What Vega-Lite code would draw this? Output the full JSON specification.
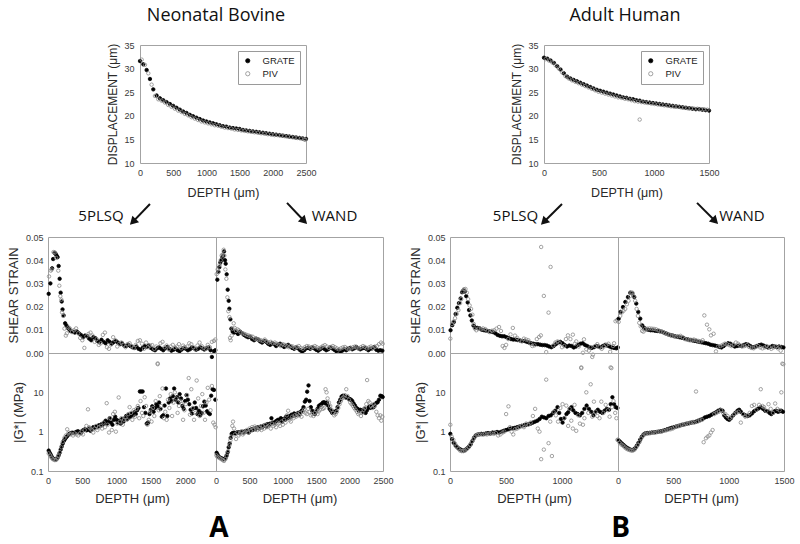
{
"$schema":"https://vega.github.io/schema/vega-lite/v6.json",
"background":"white",
"padding":{"left":7,"top":6,"right":5,"bottom":5},
"config":{
 "view":{"stroke":"#a3a3a3","strokeWidth":1},
 "axis":{"grid":false,"ticks":false,"domain":false,"labelFont":"Liberation Sans","labelFontSize":9,"labelColor":"#3a3a3a","labelPadding":5,"labelFlush":false,"titleFont":"Liberation Sans","titleFontSize":13,"titleFontWeight":"normal","titleColor":"#2a2a2a","titlePadding":5},
 "legend":{"orient":"top-right","offset":6,"padding":5,"strokeColor":"#9a9a9a","fillColor":"white","labelFont":"Liberation Sans","labelFontSize":9.5,"labelColor":"#222","symbolSize":18,"symbolStrokeWidth":0.8,"rowPadding":2,"labelOffset":10},
 "title":{"font":"Open Sans","fontWeight":"normal","color":"#111"},
 "point":{"opacity":1}
},
"datasets":{
"dA":[
{"d":0,"v":31.6,"s":"GRATE"},{"d":50,"v":30.9,"s":"GRATE"},{"d":100,"v":29.7,"s":"GRATE"},{"d":150,"v":27.8,"s":"GRATE"},{"d":200,"v":25.6,"s":"GRATE"},{"d":250,"v":24.3,"s":"GRATE"},{"d":300,"v":23.7,"s":"GRATE"},{"d":350,"v":23.3,"s":"GRATE"},{"d":400,"v":22.9,"s":"GRATE"},{"d":450,"v":22.5,"s":"GRATE"},{"d":500,"v":22.1,"s":"GRATE"},{"d":550,"v":21.7,"s":"GRATE"},{"d":600,"v":21.3,"s":"GRATE"},{"d":650,"v":20.9,"s":"GRATE"},{"d":700,"v":20.6,"s":"GRATE"},{"d":750,"v":20.2,"s":"GRATE"},{"d":800,"v":19.9,"s":"GRATE"},{"d":850,"v":19.6,"s":"GRATE"},{"d":900,"v":19.3,"s":"GRATE"},{"d":950,"v":19.0,"s":"GRATE"},{"d":1000,"v":18.8,"s":"GRATE"},{"d":1050,"v":18.6,"s":"GRATE"},{"d":1100,"v":18.4,"s":"GRATE"},{"d":1150,"v":18.2,"s":"GRATE"},{"d":1200,"v":18.0,"s":"GRATE"},{"d":1250,"v":17.8,"s":"GRATE"},{"d":1300,"v":17.7,"s":"GRATE"},{"d":1350,"v":17.5,"s":"GRATE"},{"d":1400,"v":17.4,"s":"GRATE"},{"d":1450,"v":17.3,"s":"GRATE"},{"d":1500,"v":17.2,"s":"GRATE"},{"d":1550,"v":17.0,"s":"GRATE"},{"d":1600,"v":16.9,"s":"GRATE"},{"d":1650,"v":16.8,"s":"GRATE"},{"d":1700,"v":16.7,"s":"GRATE"},{"d":1750,"v":16.6,"s":"GRATE"},{"d":1800,"v":16.5,"s":"GRATE"},{"d":1850,"v":16.4,"s":"GRATE"},{"d":1900,"v":16.3,"s":"GRATE"},{"d":1950,"v":16.2,"s":"GRATE"},{"d":2000,"v":16.1,"s":"GRATE"},{"d":2050,"v":16.0,"s":"GRATE"},{"d":2100,"v":15.9,"s":"GRATE"},{"d":2150,"v":15.8,"s":"GRATE"},{"d":2200,"v":15.7,"s":"GRATE"},{"d":2250,"v":15.6,"s":"GRATE"},{"d":2300,"v":15.5,"s":"GRATE"},{"d":2350,"v":15.4,"s":"GRATE"},{"d":2400,"v":15.3,"s":"GRATE"},{"d":2450,"v":15.2,"s":"GRATE"},{"d":2500,"v":15.1,"s":"GRATE"},
{"d":25,"v":31.9,"s":"PIV"},{"d":75,"v":30.8,"s":"PIV"},{"d":125,"v":29.0,"s":"PIV"},{"d":175,"v":26.6,"s":"PIV"},{"d":225,"v":24.2,"s":"PIV"},{"d":275,"v":23.5,"s":"PIV"},{"d":325,"v":23.2,"s":"PIV"},{"d":375,"v":22.8,"s":"PIV"},{"d":425,"v":22.3,"s":"PIV"},{"d":475,"v":21.9,"s":"PIV"},{"d":525,"v":21.5,"s":"PIV"},{"d":575,"v":21.1,"s":"PIV"},{"d":625,"v":20.8,"s":"PIV"},{"d":675,"v":20.4,"s":"PIV"},{"d":725,"v":20.1,"s":"PIV"},{"d":775,"v":19.7,"s":"PIV"},{"d":825,"v":19.4,"s":"PIV"},{"d":875,"v":19.1,"s":"PIV"},{"d":925,"v":18.8,"s":"PIV"},{"d":975,"v":18.6,"s":"PIV"},{"d":1025,"v":18.4,"s":"PIV"},{"d":1075,"v":18.2,"s":"PIV"},{"d":1125,"v":18.0,"s":"PIV"},{"d":1175,"v":17.9,"s":"PIV"},{"d":1225,"v":17.7,"s":"PIV"},{"d":1275,"v":17.5,"s":"PIV"},{"d":1325,"v":17.4,"s":"PIV"},{"d":1375,"v":17.3,"s":"PIV"},{"d":1425,"v":17.1,"s":"PIV"},{"d":1475,"v":17.0,"s":"PIV"},{"d":1525,"v":16.9,"s":"PIV"},{"d":1575,"v":16.8,"s":"PIV"},{"d":1625,"v":16.7,"s":"PIV"},{"d":1675,"v":16.6,"s":"PIV"},{"d":1725,"v":16.5,"s":"PIV"},{"d":1775,"v":16.4,"s":"PIV"},{"d":1825,"v":16.3,"s":"PIV"},{"d":1875,"v":16.2,"s":"PIV"},{"d":1925,"v":16.1,"s":"PIV"},{"d":1975,"v":16.0,"s":"PIV"},{"d":2025,"v":15.9,"s":"PIV"},{"d":2075,"v":15.9,"s":"PIV"},{"d":2125,"v":15.8,"s":"PIV"},{"d":2175,"v":15.7,"s":"PIV"},{"d":2225,"v":15.6,"s":"PIV"},{"d":2275,"v":15.5,"s":"PIV"},{"d":2325,"v":15.4,"s":"PIV"},{"d":2375,"v":15.3,"s":"PIV"},{"d":2425,"v":15.2,"s":"PIV"},{"d":2475,"v":15.0,"s":"PIV"},{"d":2490,"v":14.9,"s":"PIV"}
],
"dB":[
{"d":0,"v":32.3,"s":"GRATE"},{"d":30,"v":32.1,"s":"GRATE"},{"d":60,"v":31.7,"s":"GRATE"},{"d":90,"v":31.2,"s":"GRATE"},{"d":120,"v":30.5,"s":"GRATE"},{"d":150,"v":29.8,"s":"GRATE"},{"d":180,"v":29.0,"s":"GRATE"},{"d":210,"v":28.3,"s":"GRATE"},{"d":240,"v":27.9,"s":"GRATE"},{"d":270,"v":27.6,"s":"GRATE"},{"d":300,"v":27.3,"s":"GRATE"},{"d":330,"v":27.0,"s":"GRATE"},{"d":360,"v":26.7,"s":"GRATE"},{"d":390,"v":26.4,"s":"GRATE"},{"d":420,"v":26.1,"s":"GRATE"},{"d":450,"v":25.8,"s":"GRATE"},{"d":480,"v":25.5,"s":"GRATE"},{"d":510,"v":25.3,"s":"GRATE"},{"d":540,"v":25.1,"s":"GRATE"},{"d":570,"v":24.9,"s":"GRATE"},{"d":600,"v":24.7,"s":"GRATE"},{"d":630,"v":24.5,"s":"GRATE"},{"d":660,"v":24.3,"s":"GRATE"},{"d":690,"v":24.1,"s":"GRATE"},{"d":720,"v":23.9,"s":"GRATE"},{"d":750,"v":23.8,"s":"GRATE"},{"d":780,"v":23.6,"s":"GRATE"},{"d":810,"v":23.5,"s":"GRATE"},{"d":840,"v":23.3,"s":"GRATE"},{"d":870,"v":23.2,"s":"GRATE"},{"d":900,"v":23.0,"s":"GRATE"},{"d":930,"v":22.9,"s":"GRATE"},{"d":960,"v":22.8,"s":"GRATE"},{"d":990,"v":22.7,"s":"GRATE"},{"d":1020,"v":22.6,"s":"GRATE"},{"d":1050,"v":22.5,"s":"GRATE"},{"d":1080,"v":22.4,"s":"GRATE"},{"d":1110,"v":22.3,"s":"GRATE"},{"d":1140,"v":22.2,"s":"GRATE"},{"d":1170,"v":22.1,"s":"GRATE"},{"d":1200,"v":22.0,"s":"GRATE"},{"d":1230,"v":21.9,"s":"GRATE"},{"d":1260,"v":21.8,"s":"GRATE"},{"d":1290,"v":21.7,"s":"GRATE"},{"d":1320,"v":21.6,"s":"GRATE"},{"d":1350,"v":21.5,"s":"GRATE"},{"d":1380,"v":21.4,"s":"GRATE"},{"d":1410,"v":21.4,"s":"GRATE"},{"d":1440,"v":21.3,"s":"GRATE"},{"d":1470,"v":21.2,"s":"GRATE"},{"d":1500,"v":21.1,"s":"GRATE"},
{"d":15,"v":32.0,"s":"PIV"},{"d":45,"v":31.7,"s":"PIV"},{"d":75,"v":31.3,"s":"PIV"},{"d":105,"v":30.7,"s":"PIV"},{"d":135,"v":30.0,"s":"PIV"},{"d":165,"v":29.2,"s":"PIV"},{"d":195,"v":28.4,"s":"PIV"},{"d":225,"v":27.9,"s":"PIV"},{"d":255,"v":27.5,"s":"PIV"},{"d":285,"v":27.2,"s":"PIV"},{"d":315,"v":26.9,"s":"PIV"},{"d":345,"v":26.6,"s":"PIV"},{"d":375,"v":26.3,"s":"PIV"},{"d":405,"v":26.0,"s":"PIV"},{"d":435,"v":25.7,"s":"PIV"},{"d":465,"v":25.4,"s":"PIV"},{"d":495,"v":25.1,"s":"PIV"},{"d":525,"v":24.9,"s":"PIV"},{"d":555,"v":24.7,"s":"PIV"},{"d":585,"v":24.5,"s":"PIV"},{"d":615,"v":24.3,"s":"PIV"},{"d":645,"v":24.1,"s":"PIV"},{"d":675,"v":23.9,"s":"PIV"},{"d":705,"v":23.8,"s":"PIV"},{"d":735,"v":23.6,"s":"PIV"},{"d":765,"v":23.5,"s":"PIV"},{"d":795,"v":23.3,"s":"PIV"},{"d":825,"v":23.1,"s":"PIV"},{"d":855,"v":23.0,"s":"PIV"},{"d":870,"v":19.2,"s":"PIV"},{"d":885,"v":22.9,"s":"PIV"},{"d":915,"v":22.8,"s":"PIV"},{"d":945,"v":22.7,"s":"PIV"},{"d":975,"v":22.6,"s":"PIV"},{"d":1005,"v":22.5,"s":"PIV"},{"d":1035,"v":22.4,"s":"PIV"},{"d":1065,"v":22.3,"s":"PIV"},{"d":1095,"v":22.2,"s":"PIV"},{"d":1125,"v":22.1,"s":"PIV"},{"d":1155,"v":22.0,"s":"PIV"},{"d":1185,"v":21.9,"s":"PIV"},{"d":1215,"v":21.9,"s":"PIV"},{"d":1245,"v":21.8,"s":"PIV"},{"d":1275,"v":21.7,"s":"PIV"},{"d":1305,"v":21.6,"s":"PIV"},{"d":1335,"v":21.6,"s":"PIV"},{"d":1365,"v":21.5,"s":"PIV"},{"d":1395,"v":21.5,"s":"PIV"},{"d":1425,"v":21.4,"s":"PIV"},{"d":1455,"v":21.4,"s":"PIV"},{"d":1485,"v":21.3,"s":"PIV"}
],
"sAL":[
{"d":10,"v":0.0255,"s":"GRATE"},{"d":35,"v":0.030,"s":"GRATE"},{"d":60,"v":0.0365,"s":"GRATE"},{"d":75,"v":0.0405,"s":"GRATE"},{"d":95,"v":0.0432,"s":"GRATE"},{"d":110,"v":0.0428,"s":"GRATE"},{"d":125,"v":0.042,"s":"GRATE"},{"d":140,"v":0.0413,"s":"GRATE"},{"d":155,"v":0.0375,"s":"GRATE"},{"d":170,"v":0.032,"s":"GRATE"},{"d":185,"v":0.026,"s":"GRATE"},{"d":200,"v":0.0222,"s":"GRATE"},{"d":212,"v":0.0188,"s":"GRATE"},{"d":228,"v":0.0162,"s":"GRATE"},{"d":250,"v":0.0128,"s":"GRATE"},{"d":270,"v":0.0118,"s":"GRATE"},{"d":290,"v":0.0108,"s":"GRATE"},{"d":310,"v":0.0102,"s":"GRATE"},{"d":330,"v":0.0095,"s":"GRATE"},{"d":360,"v":0.0092,"s":"GRATE"},{"d":390,"v":0.0088,"s":"GRATE"},{"d":420,"v":0.0093,"s":"GRATE"},{"d":450,"v":0.0085,"s":"GRATE"},{"d":480,"v":0.0078,"s":"GRATE"},{"d":510,"v":0.0068,"s":"GRATE"},{"d":540,"v":0.0075,"s":"GRATE"},{"d":570,"v":0.0073,"s":"GRATE"},{"d":600,"v":0.0062,"s":"GRATE"},{"d":630,"v":0.0055,"s":"GRATE"},{"d":660,"v":0.0068,"s":"GRATE"},{"d":690,"v":0.0064,"s":"GRATE"},{"d":720,"v":0.0052,"s":"GRATE"},{"d":750,"v":0.0046,"s":"GRATE"},{"d":780,"v":0.0057,"s":"GRATE"},{"d":810,"v":0.0048,"s":"GRATE"},{"d":840,"v":0.0042,"s":"GRATE"},{"d":870,"v":0.0055,"s":"GRATE"},{"d":900,"v":0.0048,"s":"GRATE"},{"d":930,"v":0.0040,"s":"GRATE"},{"d":960,"v":0.0047,"s":"GRATE"},{"d":990,"v":0.0052,"s":"GRATE"},{"d":1020,"v":0.0045,"s":"GRATE"},{"d":1050,"v":0.0038,"s":"GRATE"},{"d":1080,"v":0.0042,"s":"GRATE"},{"d":1110,"v":0.0032,"s":"GRATE"},{"d":1140,"v":0.0030,"s":"GRATE"},{"d":1170,"v":0.0036,"s":"GRATE"},{"d":1200,"v":0.0030,"s":"GRATE"},{"d":1230,"v":0.0025,"s":"GRATE"},{"d":1260,"v":0.0022,"s":"GRATE"},{"d":1290,"v":0.0028,"s":"GRATE"},{"d":1320,"v":0.0018,"s":"GRATE"},{"d":1350,"v":0.0014,"s":"GRATE"},{"d":1380,"v":0.0022,"s":"GRATE"},{"d":1410,"v":0.0030,"s":"GRATE"},{"d":1440,"v":0.0026,"s":"GRATE"},{"d":1470,"v":0.0032,"s":"GRATE"},{"d":1500,"v":0.0022,"s":"GRATE"},{"d":1530,"v":0.0016,"s":"GRATE"},{"d":1560,"v":0.0012,"s":"GRATE"},{"d":1590,"v":0.0020,"s":"GRATE"},{"d":1620,"v":0.0024,"s":"GRATE"},{"d":1650,"v":0.0018,"s":"GRATE"},{"d":1680,"v":0.0012,"s":"GRATE"},{"d":1710,"v":0.0020,"s":"GRATE"},{"d":1740,"v":0.0026,"s":"GRATE"},{"d":1770,"v":0.0018,"s":"GRATE"},{"d":1800,"v":0.0010,"s":"GRATE"},{"d":1830,"v":0.0014,"s":"GRATE"},{"d":1860,"v":0.0020,"s":"GRATE"},{"d":1890,"v":0.0012,"s":"GRATE"},{"d":1920,"v":0.0008,"s":"GRATE"},{"d":1950,"v":0.0015,"s":"GRATE"},{"d":1980,"v":0.0022,"s":"GRATE"},{"d":2010,"v":0.0018,"s":"GRATE"},{"d":2040,"v":0.0012,"s":"GRATE"},{"d":2070,"v":0.0016,"s":"GRATE"},{"d":2100,"v":0.0024,"s":"GRATE"},{"d":2130,"v":0.0020,"s":"GRATE"},{"d":2160,"v":0.0014,"s":"GRATE"},{"d":2190,"v":0.0018,"s":"GRATE"},{"d":2220,"v":0.0025,"s":"GRATE"},{"d":2250,"v":0.0020,"s":"GRATE"},{"d":2280,"v":0.0015,"s":"GRATE"},{"d":2310,"v":0.0020,"s":"GRATE"},{"d":2340,"v":0.0024,"s":"GRATE"},{"d":2370,"v":0.0012,"s":"GRATE"},{"d":2390,"v":-0.0017,"s":"GRATE"},{"d":2420,"v":0.0008,"s":"GRATE"},{"d":2440,"v":0.0012,"s":"GRATE"},
{"d":15,"v":0.033,"s":"PIV"},{"d":40,"v":0.0355,"s":"PIV"},{"d":55,"v":0.036,"s":"PIV"},{"d":80,"v":0.0435,"s":"PIV"},{"d":100,"v":0.0433,"s":"PIV"},{"d":120,"v":0.041,"s":"PIV"},{"d":150,"v":0.0355,"s":"PIV"},{"d":165,"v":0.029,"s":"PIV"},{"d":180,"v":0.0245,"s":"PIV"},{"d":195,"v":0.023,"s":"PIV"},{"d":205,"v":0.0175,"s":"PIV"},{"d":220,"v":0.016,"s":"PIV"},{"d":240,"v":0.0105,"s":"PIV"},{"d":260,"v":0.0075,"s":"PIV"},{"d":275,"v":0.0085,"s":"PIV"},{"d":300,"v":0.011,"s":"PIV"},{"d":320,"v":0.0105,"s":"PIV"},{"d":350,"v":0.009,"s":"PIV"},{"d":380,"v":0.0098,"s":"PIV"},{"d":410,"v":0.0106,"s":"PIV"},{"d":440,"v":0.0085,"s":"PIV"},{"d":470,"v":0.0065,"s":"PIV"},{"d":500,"v":0.0055,"s":"PIV"},{"d":530,"v":0.0022,"s":"PIV"},{"d":560,"v":0.0072,"s":"PIV"},{"d":590,"v":0.0082,"s":"PIV"},{"d":620,"v":0.0088,"s":"PIV"},{"d":650,"v":0.0075,"s":"PIV"},{"d":680,"v":0.0048,"s":"PIV"},{"d":710,"v":0.006,"s":"PIV"},{"d":740,"v":0.0035,"s":"PIV"},{"d":770,"v":0.0042,"s":"PIV"},{"d":800,"v":0.0078,"s":"PIV"},{"d":830,"v":0.0088,"s":"PIV"},{"d":860,"v":0.0025,"s":"PIV"},{"d":890,"v":0.0018,"s":"PIV"},{"d":920,"v":0.0036,"s":"PIV"},{"d":950,"v":0.0068,"s":"PIV"},{"d":980,"v":0.0055,"s":"PIV"},{"d":1010,"v":0.0028,"s":"PIV"},{"d":1040,"v":0.004,"s":"PIV"},{"d":1070,"v":0.0045,"s":"PIV"},{"d":1100,"v":0.0035,"s":"PIV"},{"d":1130,"v":0.0025,"s":"PIV"},{"d":1160,"v":0.0038,"s":"PIV"},{"d":1190,"v":0.0042,"s":"PIV"},{"d":1220,"v":0.003,"s":"PIV"},{"d":1250,"v":0.0022,"s":"PIV"},{"d":1280,"v":0.0035,"s":"PIV"},{"d":1310,"v":0.0052,"s":"PIV"},{"d":1340,"v":0.0055,"s":"PIV"},{"d":1370,"v":0.004,"s":"PIV"},{"d":1400,"v":0.0018,"s":"PIV"},{"d":1430,"v":0.0045,"s":"PIV"},{"d":1460,"v":0.0025,"s":"PIV"},{"d":1490,"v":0.0032,"s":"PIV"},{"d":1520,"v":0.0034,"s":"PIV"},{"d":1550,"v":0.0018,"s":"PIV"},{"d":1580,"v":0.0028,"s":"PIV"},{"d":1600,"v":-0.0045,"s":"PIV"},{"d":1640,"v":0.0042,"s":"PIV"},{"d":1670,"v":0.0048,"s":"PIV"},{"d":1700,"v":0.0025,"s":"PIV"},{"d":1730,"v":0.0032,"s":"PIV"},{"d":1760,"v":0.0015,"s":"PIV"},{"d":1790,"v":0.0028,"s":"PIV"},{"d":1820,"v":0.0035,"s":"PIV"},{"d":1850,"v":0.0022,"s":"PIV"},{"d":1880,"v":0.0028,"s":"PIV"},{"d":1910,"v":0.0038,"s":"PIV"},{"d":1940,"v":0.0020,"s":"PIV"},{"d":1970,"v":0.0032,"s":"PIV"},{"d":2000,"v":0.0025,"s":"PIV"},{"d":2030,"v":0.0028,"s":"PIV"},{"d":2060,"v":0.0042,"s":"PIV"},{"d":2090,"v":0.0038,"s":"PIV"},{"d":2120,"v":0.0025,"s":"PIV"},{"d":2150,"v":0.0015,"s":"PIV"},{"d":2180,"v":0.0032,"s":"PIV"},{"d":2210,"v":0.0045,"s":"PIV"},{"d":2240,"v":0.0030,"s":"PIV"},{"d":2270,"v":0.0022,"s":"PIV"},{"d":2300,"v":0.0018,"s":"PIV"},{"d":2330,"v":0.0035,"s":"PIV"},{"d":2360,"v":0.0025,"s":"PIV"},{"d":2390,"v":0.0048,"s":"PIV"},{"d":2420,"v":0.0052,"s":"PIV"},{"d":2440,"v":0.0058,"s":"PIV"}
],
"sAR":[
{"d":20,"v":0.0316,"s":"GRATE"},{"d":35,"v":0.035,"s":"GRATE"},{"d":50,"v":0.037,"s":"GRATE"},{"d":65,"v":0.039,"s":"GRATE"},{"d":80,"v":0.040,"s":"GRATE"},{"d":95,"v":0.0414,"s":"GRATE"},{"d":110,"v":0.042,"s":"GRATE"},{"d":120,"v":0.0438,"s":"GRATE"},{"d":135,"v":0.040,"s":"GRATE"},{"d":145,"v":0.0385,"s":"GRATE"},{"d":160,"v":0.0339,"s":"GRATE"},{"d":175,"v":0.0273,"s":"GRATE"},{"d":190,"v":0.0225,"s":"GRATE"},{"d":200,"v":0.0191,"s":"GRATE"},{"d":215,"v":0.0145,"s":"GRATE"},{"d":230,"v":0.0105,"s":"GRATE"},{"d":250,"v":0.0092,"s":"GRATE"},{"d":270,"v":0.0088,"s":"GRATE"},{"d":290,"v":0.0095,"s":"GRATE"},{"d":310,"v":0.0088,"s":"GRATE"},{"d":330,"v":0.0082,"s":"GRATE"},{"d":360,"v":0.0092,"s":"GRATE"},{"d":390,"v":0.0085,"s":"GRATE"},{"d":420,"v":0.0078,"s":"GRATE"},{"d":450,"v":0.0072,"s":"GRATE"},{"d":480,"v":0.0068,"s":"GRATE"},{"d":510,"v":0.0070,"s":"GRATE"},{"d":540,"v":0.0060,"s":"GRATE"},{"d":570,"v":0.0055,"s":"GRATE"},{"d":600,"v":0.0062,"s":"GRATE"},{"d":630,"v":0.0058,"s":"GRATE"},{"d":660,"v":0.0050,"s":"GRATE"},{"d":690,"v":0.0045,"s":"GRATE"},{"d":720,"v":0.0052,"s":"GRATE"},{"d":750,"v":0.0048,"s":"GRATE"},{"d":780,"v":0.0040,"s":"GRATE"},{"d":810,"v":0.0035,"s":"GRATE"},{"d":840,"v":0.0042,"s":"GRATE"},{"d":870,"v":0.0038,"s":"GRATE"},{"d":900,"v":0.0030,"s":"GRATE"},{"d":930,"v":0.0036,"s":"GRATE"},{"d":960,"v":0.0040,"s":"GRATE"},{"d":990,"v":0.0032,"s":"GRATE"},{"d":1020,"v":0.0026,"s":"GRATE"},{"d":1050,"v":0.0030,"s":"GRATE"},{"d":1080,"v":0.0035,"s":"GRATE"},{"d":1110,"v":0.0028,"s":"GRATE"},{"d":1140,"v":0.0022,"s":"GRATE"},{"d":1170,"v":0.0018,"s":"GRATE"},{"d":1200,"v":0.0024,"s":"GRATE"},{"d":1230,"v":0.0020,"s":"GRATE"},{"d":1260,"v":0.0012,"s":"GRATE"},{"d":1290,"v":0.0006,"s":"GRATE"},{"d":1320,"v":0.0012,"s":"GRATE"},{"d":1350,"v":0.0020,"s":"GRATE"},{"d":1380,"v":0.0022,"s":"GRATE"},{"d":1410,"v":0.0018,"s":"GRATE"},{"d":1440,"v":0.0024,"s":"GRATE"},{"d":1470,"v":0.0020,"s":"GRATE"},{"d":1500,"v":0.0014,"s":"GRATE"},{"d":1530,"v":0.0010,"s":"GRATE"},{"d":1560,"v":0.0016,"s":"GRATE"},{"d":1590,"v":0.0022,"s":"GRATE"},{"d":1620,"v":0.0018,"s":"GRATE"},{"d":1650,"v":0.0012,"s":"GRATE"},{"d":1680,"v":0.0016,"s":"GRATE"},{"d":1710,"v":0.0024,"s":"GRATE"},{"d":1740,"v":0.0020,"s":"GRATE"},{"d":1770,"v":0.0014,"s":"GRATE"},{"d":1800,"v":0.0008,"s":"GRATE"},{"d":1830,"v":0.0012,"s":"GRATE"},{"d":1860,"v":0.0006,"s":"GRATE"},{"d":1890,"v":0.0010,"s":"GRATE"},{"d":1920,"v":0.0016,"s":"GRATE"},{"d":1950,"v":0.0012,"s":"GRATE"},{"d":1980,"v":0.0018,"s":"GRATE"},{"d":2010,"v":0.0022,"s":"GRATE"},{"d":2040,"v":0.0016,"s":"GRATE"},{"d":2070,"v":0.0020,"s":"GRATE"},{"d":2100,"v":0.0026,"s":"GRATE"},{"d":2130,"v":0.0020,"s":"GRATE"},{"d":2160,"v":0.0016,"s":"GRATE"},{"d":2190,"v":0.0020,"s":"GRATE"},{"d":2220,"v":0.0022,"s":"GRATE"},{"d":2250,"v":0.0018,"s":"GRATE"},{"d":2280,"v":0.0012,"s":"GRATE"},{"d":2310,"v":0.0018,"s":"GRATE"},{"d":2340,"v":0.0020,"s":"GRATE"},{"d":2370,"v":0.0026,"s":"GRATE"},{"d":2400,"v":0.0014,"s":"GRATE"},{"d":2430,"v":0.0010,"s":"GRATE"},{"d":2460,"v":0.0012,"s":"GRATE"},{"d":2490,"v":0.0010,"s":"GRATE"},
{"d":10,"v":0.034,"s":"PIV"},{"d":25,"v":0.036,"s":"PIV"},{"d":40,"v":0.035,"s":"PIV"},{"d":55,"v":0.038,"s":"PIV"},{"d":70,"v":0.040,"s":"PIV"},{"d":85,"v":0.042,"s":"PIV"},{"d":100,"v":0.0425,"s":"PIV"},{"d":115,"v":0.0445,"s":"PIV"},{"d":125,"v":0.042,"s":"PIV"},{"d":140,"v":0.036,"s":"PIV"},{"d":155,"v":0.032,"s":"PIV"},{"d":170,"v":0.024,"s":"PIV"},{"d":185,"v":0.018,"s":"PIV"},{"d":200,"v":0.0155,"s":"PIV"},{"d":210,"v":0.0065,"s":"PIV"},{"d":220,"v":0.0055,"s":"PIV"},{"d":235,"v":0.0075,"s":"PIV"},{"d":250,"v":0.0105,"s":"PIV"},{"d":265,"v":0.0128,"s":"PIV"},{"d":280,"v":0.0108,"s":"PIV"},{"d":300,"v":0.0095,"s":"PIV"},{"d":320,"v":0.0102,"s":"PIV"},{"d":340,"v":0.0098,"s":"PIV"},{"d":370,"v":0.0088,"s":"PIV"},{"d":400,"v":0.0085,"s":"PIV"},{"d":430,"v":0.0082,"s":"PIV"},{"d":460,"v":0.0078,"s":"PIV"},{"d":490,"v":0.0075,"s":"PIV"},{"d":520,"v":0.0072,"s":"PIV"},{"d":550,"v":0.0070,"s":"PIV"},{"d":580,"v":0.0062,"s":"PIV"},{"d":610,"v":0.0060,"s":"PIV"},{"d":640,"v":0.0058,"s":"PIV"},{"d":670,"v":0.0055,"s":"PIV"},{"d":700,"v":0.0052,"s":"PIV"},{"d":730,"v":0.0058,"s":"PIV"},{"d":760,"v":0.0050,"s":"PIV"},{"d":790,"v":0.0045,"s":"PIV"},{"d":820,"v":0.0048,"s":"PIV"},{"d":850,"v":0.0042,"s":"PIV"},{"d":880,"v":0.0045,"s":"PIV"},{"d":910,"v":0.0040,"s":"PIV"},{"d":940,"v":0.0035,"s":"PIV"},{"d":970,"v":0.0030,"s":"PIV"},{"d":1000,"v":0.0038,"s":"PIV"},{"d":1030,"v":0.0035,"s":"PIV"},{"d":1060,"v":0.0030,"s":"PIV"},{"d":1090,"v":0.0025,"s":"PIV"},{"d":1120,"v":0.0030,"s":"PIV"},{"d":1150,"v":0.0028,"s":"PIV"},{"d":1180,"v":0.0022,"s":"PIV"},{"d":1210,"v":0.0026,"s":"PIV"},{"d":1240,"v":0.0030,"s":"PIV"},{"d":1270,"v":0.0022,"s":"PIV"},{"d":1300,"v":0.0018,"s":"PIV"},{"d":1330,"v":0.0025,"s":"PIV"},{"d":1360,"v":0.0030,"s":"PIV"},{"d":1390,"v":0.0028,"s":"PIV"},{"d":1420,"v":0.0022,"s":"PIV"},{"d":1450,"v":0.0026,"s":"PIV"},{"d":1480,"v":0.0030,"s":"PIV"},{"d":1510,"v":0.0025,"s":"PIV"},{"d":1540,"v":0.0020,"s":"PIV"},{"d":1570,"v":0.0024,"s":"PIV"},{"d":1600,"v":0.0030,"s":"PIV"},{"d":1630,"v":0.0034,"s":"PIV"},{"d":1660,"v":0.0028,"s":"PIV"},{"d":1690,"v":0.0022,"s":"PIV"},{"d":1720,"v":0.0026,"s":"PIV"},{"d":1750,"v":0.0030,"s":"PIV"},{"d":1780,"v":0.0025,"s":"PIV"},{"d":1810,"v":0.0020,"s":"PIV"},{"d":1840,"v":0.0016,"s":"PIV"},{"d":1870,"v":0.0020,"s":"PIV"},{"d":1900,"v":0.0024,"s":"PIV"},{"d":1930,"v":0.0026,"s":"PIV"},{"d":1960,"v":0.0020,"s":"PIV"},{"d":1990,"v":0.0016,"s":"PIV"},{"d":2020,"v":0.0020,"s":"PIV"},{"d":2050,"v":0.0025,"s":"PIV"},{"d":2080,"v":0.0028,"s":"PIV"},{"d":2110,"v":0.0024,"s":"PIV"},{"d":2140,"v":0.0020,"s":"PIV"},{"d":2170,"v":0.0025,"s":"PIV"},{"d":2200,"v":0.0030,"s":"PIV"},{"d":2230,"v":0.0026,"s":"PIV"},{"d":2260,"v":0.0020,"s":"PIV"},{"d":2290,"v":0.0024,"s":"PIV"},{"d":2320,"v":0.0028,"s":"PIV"},{"d":2350,"v":0.0022,"s":"PIV"},{"d":2380,"v":0.0026,"s":"PIV"},{"d":2410,"v":0.0030,"s":"PIV"},{"d":2440,"v":0.0038,"s":"PIV"},{"d":2470,"v":0.0045,"s":"PIV"},{"d":2495,"v":0.0040,"s":"PIV"}
],
"sBL":[
{"d":5,"v":0.0098,"s":"GRATE"},{"d":20,"v":0.012,"s":"GRATE"},{"d":35,"v":0.0134,"s":"GRATE"},{"d":50,"v":0.0168,"s":"GRATE"},{"d":65,"v":0.0195,"s":"GRATE"},{"d":80,"v":0.0215,"s":"GRATE"},{"d":95,"v":0.0235,"s":"GRATE"},{"d":108,"v":0.0262,"s":"GRATE"},{"d":120,"v":0.027,"s":"GRATE"},{"d":132,"v":0.0265,"s":"GRATE"},{"d":145,"v":0.0245,"s":"GRATE"},{"d":158,"v":0.0218,"s":"GRATE"},{"d":170,"v":0.0185,"s":"GRATE"},{"d":182,"v":0.0162,"s":"GRATE"},{"d":195,"v":0.0140,"s":"GRATE"},{"d":210,"v":0.0118,"s":"GRATE"},{"d":225,"v":0.0110,"s":"GRATE"},{"d":245,"v":0.0108,"s":"GRATE"},{"d":265,"v":0.0106,"s":"GRATE"},{"d":285,"v":0.0100,"s":"GRATE"},{"d":305,"v":0.0098,"s":"GRATE"},{"d":325,"v":0.0096,"s":"GRATE"},{"d":345,"v":0.0094,"s":"GRATE"},{"d":365,"v":0.0092,"s":"GRATE"},{"d":385,"v":0.0090,"s":"GRATE"},{"d":405,"v":0.0085,"s":"GRATE"},{"d":425,"v":0.0078,"s":"GRATE"},{"d":445,"v":0.0074,"s":"GRATE"},{"d":465,"v":0.0072,"s":"GRATE"},{"d":485,"v":0.0072,"s":"GRATE"},{"d":505,"v":0.0068,"s":"GRATE"},{"d":525,"v":0.0064,"s":"GRATE"},{"d":545,"v":0.0060,"s":"GRATE"},{"d":565,"v":0.0058,"s":"GRATE"},{"d":585,"v":0.0058,"s":"GRATE"},{"d":605,"v":0.0056,"s":"GRATE"},{"d":625,"v":0.0054,"s":"GRATE"},{"d":645,"v":0.0052,"s":"GRATE"},{"d":665,"v":0.0052,"s":"GRATE"},{"d":685,"v":0.0048,"s":"GRATE"},{"d":705,"v":0.0045,"s":"GRATE"},{"d":725,"v":0.0042,"s":"GRATE"},{"d":745,"v":0.0040,"s":"GRATE"},{"d":765,"v":0.0038,"s":"GRATE"},{"d":785,"v":0.0038,"s":"GRATE"},{"d":805,"v":0.0036,"s":"GRATE"},{"d":825,"v":0.0034,"s":"GRATE"},{"d":845,"v":0.0034,"s":"GRATE"},{"d":865,"v":0.0032,"s":"GRATE"},{"d":885,"v":0.0028,"s":"GRATE"},{"d":905,"v":0.0025,"s":"GRATE"},{"d":925,"v":0.0030,"s":"GRATE"},{"d":945,"v":0.0038,"s":"GRATE"},{"d":965,"v":0.0045,"s":"GRATE"},{"d":985,"v":0.0048,"s":"GRATE"},{"d":1005,"v":0.0042,"s":"GRATE"},{"d":1025,"v":0.0034,"s":"GRATE"},{"d":1045,"v":0.0028,"s":"GRATE"},{"d":1065,"v":0.0032,"s":"GRATE"},{"d":1085,"v":0.0030,"s":"GRATE"},{"d":1105,"v":0.0024,"s":"GRATE"},{"d":1125,"v":0.0028,"s":"GRATE"},{"d":1145,"v":0.0035,"s":"GRATE"},{"d":1165,"v":0.0040,"s":"GRATE"},{"d":1185,"v":0.0042,"s":"GRATE"},{"d":1205,"v":0.0035,"s":"GRATE"},{"d":1225,"v":0.0030,"s":"GRATE"},{"d":1245,"v":0.0025,"s":"GRATE"},{"d":1265,"v":0.0022,"s":"GRATE"},{"d":1285,"v":0.0025,"s":"GRATE"},{"d":1305,"v":0.0030,"s":"GRATE"},{"d":1325,"v":0.0028,"s":"GRATE"},{"d":1345,"v":0.0025,"s":"GRATE"},{"d":1365,"v":0.0030,"s":"GRATE"},{"d":1385,"v":0.0035,"s":"GRATE"},{"d":1405,"v":0.0032,"s":"GRATE"},{"d":1425,"v":0.0028,"s":"GRATE"},{"d":1445,"v":0.0024,"s":"GRATE"},{"d":1465,"v":0.0022,"s":"GRATE"},{"d":1485,"v":0.0020,"s":"GRATE"},{"d":1498,"v":0.0024,"s":"GRATE"},
{"d":3,"v":0.0062,"s":"PIV"},{"d":18,"v":0.0125,"s":"PIV"},{"d":30,"v":0.0135,"s":"PIV"},{"d":45,"v":0.0150,"s":"PIV"},{"d":60,"v":0.0168,"s":"PIV"},{"d":75,"v":0.0185,"s":"PIV"},{"d":90,"v":0.0215,"s":"PIV"},{"d":100,"v":0.0232,"s":"PIV"},{"d":112,"v":0.0265,"s":"PIV"},{"d":125,"v":0.0275,"s":"PIV"},{"d":138,"v":0.0276,"s":"PIV"},{"d":150,"v":0.026,"s":"PIV"},{"d":162,"v":0.0232,"s":"PIV"},{"d":175,"v":0.0205,"s":"PIV"},{"d":188,"v":0.019,"s":"PIV"},{"d":200,"v":0.0165,"s":"PIV"},{"d":212,"v":0.0125,"s":"PIV"},{"d":222,"v":0.0105,"s":"PIV"},{"d":235,"v":0.0098,"s":"PIV"},{"d":255,"v":0.0104,"s":"PIV"},{"d":275,"v":0.0102,"s":"PIV"},{"d":295,"v":0.0106,"s":"PIV"},{"d":315,"v":0.0103,"s":"PIV"},{"d":335,"v":0.0095,"s":"PIV"},{"d":355,"v":0.0090,"s":"PIV"},{"d":375,"v":0.0096,"s":"PIV"},{"d":395,"v":0.0098,"s":"PIV"},{"d":415,"v":0.0105,"s":"PIV"},{"d":438,"v":0.0112,"s":"PIV"},{"d":455,"v":0.0095,"s":"PIV"},{"d":470,"v":0.0030,"s":"PIV"},{"d":486,"v":0.0022,"s":"PIV"},{"d":501,"v":0.0035,"s":"PIV"},{"d":520,"v":0.0060,"s":"PIV"},{"d":540,"v":0.0080,"s":"PIV"},{"d":561,"v":0.0108,"s":"PIV"},{"d":580,"v":0.0075,"s":"PIV"},{"d":600,"v":0.0065,"s":"PIV"},{"d":620,"v":0.0055,"s":"PIV"},{"d":640,"v":0.0050,"s":"PIV"},{"d":660,"v":0.0062,"s":"PIV"},{"d":680,"v":0.0058,"s":"PIV"},{"d":700,"v":0.0055,"s":"PIV"},{"d":720,"v":0.0040,"s":"PIV"},{"d":735,"v":0.0030,"s":"PIV"},{"d":754,"v":0.0033,"s":"PIV"},{"d":775,"v":0.0060,"s":"PIV"},{"d":796,"v":0.0069,"s":"PIV"},{"d":811,"v":0.0076,"s":"PIV"},{"d":814,"v":0.0457,"s":"PIV"},{"d":838,"v":0.0246,"s":"PIV"},{"d":859,"v":0.0004,"s":"PIV"},{"d":880,"v":0.0174,"s":"PIV"},{"d":898,"v":0.0371,"s":"PIV"},{"d":920,"v":0.0032,"s":"PIV"},{"d":940,"v":0.0045,"s":"PIV"},{"d":960,"v":0.0050,"s":"PIV"},{"d":980,"v":0.0042,"s":"PIV"},{"d":1000,"v":0.0025,"s":"PIV"},{"d":1020,"v":0.0030,"s":"PIV"},{"d":1035,"v":0.0060,"s":"PIV"},{"d":1053,"v":0.0076,"s":"PIV"},{"d":1075,"v":0.0060,"s":"PIV"},{"d":1097,"v":0.0079,"s":"PIV"},{"d":1115,"v":0.0040,"s":"PIV"},{"d":1127,"v":0.0050,"s":"PIV"},{"d":1150,"v":0.0028,"s":"PIV"},{"d":1172,"v":-0.0065,"s":"PIV"},{"d":1187,"v":0.0001,"s":"PIV"},{"d":1196,"v":0.0059,"s":"PIV"},{"d":1217,"v":0.0016,"s":"PIV"},{"d":1240,"v":0.0010,"s":"PIV"},{"d":1255,"v":0.0025,"s":"PIV"},{"d":1270,"v":-0.0017,"s":"PIV"},{"d":1276,"v":-0.0007,"s":"PIV"},{"d":1295,"v":0.0030,"s":"PIV"},{"d":1315,"v":0.0038,"s":"PIV"},{"d":1335,"v":0.0025,"s":"PIV"},{"d":1355,"v":0.0018,"s":"PIV"},{"d":1375,"v":0.0028,"s":"PIV"},{"d":1395,"v":0.0035,"s":"PIV"},{"d":1415,"v":0.0040,"s":"PIV"},{"d":1430,"v":0.0005,"s":"PIV"},{"d":1441,"v":-0.0065,"s":"PIV"},{"d":1455,"v":0.0030,"s":"PIV"},{"d":1465,"v":0.0042,"s":"PIV"},{"d":1478,"v":0.0137,"s":"PIV"},{"d":1492,"v":0.0142,"s":"PIV"}
],
"sBR":[
{"d":6,"v":0.0148,"s":"GRATE"},{"d":24,"v":0.0177,"s":"GRATE"},{"d":45,"v":0.0198,"s":"GRATE"},{"d":66,"v":0.022,"s":"GRATE"},{"d":90,"v":0.0241,"s":"GRATE"},{"d":111,"v":0.026,"s":"GRATE"},{"d":129,"v":0.0257,"s":"GRATE"},{"d":147,"v":0.0241,"s":"GRATE"},{"d":165,"v":0.0213,"s":"GRATE"},{"d":183,"v":0.0177,"s":"GRATE"},{"d":201,"v":0.0148,"s":"GRATE"},{"d":219,"v":0.0119,"s":"GRATE"},{"d":237,"v":0.0108,"s":"GRATE"},{"d":255,"v":0.0102,"s":"GRATE"},{"d":275,"v":0.0100,"s":"GRATE"},{"d":295,"v":0.0098,"s":"GRATE"},{"d":315,"v":0.0098,"s":"GRATE"},{"d":335,"v":0.0096,"s":"GRATE"},{"d":355,"v":0.0095,"s":"GRATE"},{"d":375,"v":0.0094,"s":"GRATE"},{"d":395,"v":0.0092,"s":"GRATE"},{"d":415,"v":0.0088,"s":"GRATE"},{"d":435,"v":0.0084,"s":"GRATE"},{"d":455,"v":0.0080,"s":"GRATE"},{"d":475,"v":0.0077,"s":"GRATE"},{"d":495,"v":0.0075,"s":"GRATE"},{"d":515,"v":0.0072,"s":"GRATE"},{"d":535,"v":0.0070,"s":"GRATE"},{"d":555,"v":0.0068,"s":"GRATE"},{"d":575,"v":0.0066,"s":"GRATE"},{"d":595,"v":0.0064,"s":"GRATE"},{"d":615,"v":0.0060,"s":"GRATE"},{"d":635,"v":0.0058,"s":"GRATE"},{"d":655,"v":0.0056,"s":"GRATE"},{"d":675,"v":0.0054,"s":"GRATE"},{"d":695,"v":0.0052,"s":"GRATE"},{"d":715,"v":0.0050,"s":"GRATE"},{"d":735,"v":0.0048,"s":"GRATE"},{"d":755,"v":0.0046,"s":"GRATE"},{"d":775,"v":0.0044,"s":"GRATE"},{"d":795,"v":0.0042,"s":"GRATE"},{"d":815,"v":0.0040,"s":"GRATE"},{"d":835,"v":0.0036,"s":"GRATE"},{"d":855,"v":0.0034,"s":"GRATE"},{"d":875,"v":0.0032,"s":"GRATE"},{"d":895,"v":0.0030,"s":"GRATE"},{"d":915,"v":0.0026,"s":"GRATE"},{"d":935,"v":0.0024,"s":"GRATE"},{"d":955,"v":0.0030,"s":"GRATE"},{"d":975,"v":0.0038,"s":"GRATE"},{"d":995,"v":0.0042,"s":"GRATE"},{"d":1015,"v":0.0040,"s":"GRATE"},{"d":1035,"v":0.0034,"s":"GRATE"},{"d":1055,"v":0.0028,"s":"GRATE"},{"d":1075,"v":0.0030,"s":"GRATE"},{"d":1095,"v":0.0032,"s":"GRATE"},{"d":1115,"v":0.0030,"s":"GRATE"},{"d":1135,"v":0.0034,"s":"GRATE"},{"d":1155,"v":0.0038,"s":"GRATE"},{"d":1175,"v":0.0036,"s":"GRATE"},{"d":1195,"v":0.0030,"s":"GRATE"},{"d":1215,"v":0.0024,"s":"GRATE"},{"d":1235,"v":0.0026,"s":"GRATE"},{"d":1255,"v":0.0030,"s":"GRATE"},{"d":1275,"v":0.0034,"s":"GRATE"},{"d":1295,"v":0.0036,"s":"GRATE"},{"d":1315,"v":0.0032,"s":"GRATE"},{"d":1335,"v":0.0028,"s":"GRATE"},{"d":1355,"v":0.0024,"s":"GRATE"},{"d":1375,"v":0.0026,"s":"GRATE"},{"d":1395,"v":0.0030,"s":"GRATE"},{"d":1415,"v":0.0028,"s":"GRATE"},{"d":1435,"v":0.0026,"s":"GRATE"},{"d":1455,"v":0.0028,"s":"GRATE"},{"d":1475,"v":0.0026,"s":"GRATE"},{"d":1495,"v":0.0024,"s":"GRATE"},
{"d":6,"v":0.0134,"s":"PIV"},{"d":20,"v":0.016,"s":"PIV"},{"d":35,"v":0.0175,"s":"PIV"},{"d":50,"v":0.0182,"s":"PIV"},{"d":65,"v":0.019,"s":"PIV"},{"d":80,"v":0.021,"s":"PIV"},{"d":95,"v":0.0225,"s":"PIV"},{"d":108,"v":0.0245,"s":"PIV"},{"d":118,"v":0.026,"s":"PIV"},{"d":130,"v":0.026,"s":"PIV"},{"d":142,"v":0.0245,"s":"PIV"},{"d":155,"v":0.0225,"s":"PIV"},{"d":168,"v":0.019,"s":"PIV"},{"d":180,"v":0.016,"s":"PIV"},{"d":192,"v":0.013,"s":"PIV"},{"d":205,"v":0.0115,"s":"PIV"},{"d":218,"v":0.0095,"s":"PIV"},{"d":230,"v":0.0092,"s":"PIV"},{"d":245,"v":0.0103,"s":"PIV"},{"d":265,"v":0.0105,"s":"PIV"},{"d":285,"v":0.0106,"s":"PIV"},{"d":305,"v":0.0105,"s":"PIV"},{"d":325,"v":0.0104,"s":"PIV"},{"d":345,"v":0.0102,"s":"PIV"},{"d":365,"v":0.0098,"s":"PIV"},{"d":385,"v":0.0092,"s":"PIV"},{"d":405,"v":0.0090,"s":"PIV"},{"d":425,"v":0.0085,"s":"PIV"},{"d":445,"v":0.0082,"s":"PIV"},{"d":465,"v":0.0078,"s":"PIV"},{"d":485,"v":0.0074,"s":"PIV"},{"d":505,"v":0.0072,"s":"PIV"},{"d":525,"v":0.0070,"s":"PIV"},{"d":545,"v":0.0072,"s":"PIV"},{"d":565,"v":0.0074,"s":"PIV"},{"d":585,"v":0.0068,"s":"PIV"},{"d":605,"v":0.0060,"s":"PIV"},{"d":625,"v":0.0058,"s":"PIV"},{"d":645,"v":0.0055,"s":"PIV"},{"d":665,"v":0.0056,"s":"PIV"},{"d":685,"v":0.0058,"s":"PIV"},{"d":705,"v":0.0055,"s":"PIV"},{"d":725,"v":0.0052,"s":"PIV"},{"d":745,"v":0.0050,"s":"PIV"},{"d":765,"v":0.0055,"s":"PIV"},{"d":780,"v":0.0162,"s":"PIV"},{"d":804,"v":0.0122,"s":"PIV"},{"d":825,"v":0.0102,"s":"PIV"},{"d":840,"v":0.0076,"s":"PIV"},{"d":864,"v":0.0083,"s":"PIV"},{"d":885,"v":0.0007,"s":"PIV"},{"d":905,"v":0.0028,"s":"PIV"},{"d":925,"v":0.0030,"s":"PIV"},{"d":945,"v":0.0035,"s":"PIV"},{"d":965,"v":0.0040,"s":"PIV"},{"d":985,"v":0.0038,"s":"PIV"},{"d":1005,"v":0.0034,"s":"PIV"},{"d":1025,"v":0.0030,"s":"PIV"},{"d":1045,"v":0.0036,"s":"PIV"},{"d":1065,"v":0.0045,"s":"PIV"},{"d":1085,"v":0.0040,"s":"PIV"},{"d":1105,"v":0.0032,"s":"PIV"},{"d":1125,"v":0.0028,"s":"PIV"},{"d":1145,"v":0.0030,"s":"PIV"},{"d":1165,"v":0.0034,"s":"PIV"},{"d":1185,"v":0.0026,"s":"PIV"},{"d":1205,"v":0.0022,"s":"PIV"},{"d":1225,"v":0.0020,"s":"PIV"},{"d":1245,"v":0.0026,"s":"PIV"},{"d":1265,"v":0.0030,"s":"PIV"},{"d":1285,"v":0.0024,"s":"PIV"},{"d":1305,"v":0.0020,"s":"PIV"},{"d":1325,"v":0.0024,"s":"PIV"},{"d":1345,"v":0.0030,"s":"PIV"},{"d":1365,"v":0.0026,"s":"PIV"},{"d":1385,"v":0.0018,"s":"PIV"},{"d":1405,"v":0.0024,"s":"PIV"},{"d":1425,"v":0.0028,"s":"PIV"},{"d":1445,"v":0.0020,"s":"PIV"},{"d":1460,"v":0.0026,"s":"PIV"},{"d":1470,"v":0.0010,"s":"PIV"},{"d":1485,"v":-0.0046,"s":"PIV"}
],
"gAL":[
{"d":10,"v":0.33,"s":"GRATE"},{"d":25,"v":0.29,"s":"GRATE"},{"d":40,"v":0.26,"s":"GRATE"},{"d":55,"v":0.23,"s":"GRATE"},{"d":70,"v":0.21,"s":"GRATE"},{"d":90,"v":0.20,"s":"GRATE"},{"d":110,"v":0.195,"s":"GRATE"},{"d":125,"v":0.20,"s":"GRATE"},{"d":140,"v":0.22,"s":"GRATE"},{"d":155,"v":0.25,"s":"GRATE"},{"d":170,"v":0.29,"s":"GRATE"},{"d":185,"v":0.35,"s":"GRATE"},{"d":200,"v":0.42,"s":"GRATE"},{"d":215,"v":0.50,"s":"GRATE"},{"d":230,"v":0.58,"s":"GRATE"},{"d":245,"v":0.64,"s":"GRATE"},{"d":260,"v":0.70,"s":"GRATE"},{"d":280,"v":0.77,"s":"GRATE"},{"d":300,"v":0.85,"s":"GRATE"},{"d":320,"v":0.90,"s":"GRATE"},{"d":340,"v":0.93,"s":"GRATE"},{"d":360,"v":0.94,"s":"GRATE"},{"d":380,"v":0.92,"s":"GRATE"},{"d":400,"v":0.96,"s":"GRATE"},{"d":420,"v":1.0,"s":"GRATE"},{"d":440,"v":1.02,"s":"GRATE"},{"d":460,"v":0.95,"s":"GRATE"},{"d":480,"v":0.92,"s":"GRATE"},{"d":500,"v":1.05,"s":"GRATE"},{"d":520,"v":1.1,"s":"GRATE"},{"d":540,"v":1.15,"s":"GRATE"},{"d":560,"v":1.08,"s":"GRATE"},{"d":580,"v":1.12,"s":"GRATE"},{"d":600,"v":1.2,"s":"GRATE"},{"d":620,"v":1.05,"s":"GRATE"},{"d":640,"v":1.15,"s":"GRATE"},{"d":660,"v":1.3,"s":"GRATE"},{"d":680,"v":1.25,"s":"GRATE"},{"d":700,"v":1.35,"s":"GRATE"},{"d":720,"v":1.3,"s":"GRATE"},{"d":740,"v":1.45,"s":"GRATE"},{"d":760,"v":1.4,"s":"GRATE"},{"d":780,"v":1.55,"s":"GRATE"},{"d":800,"v":1.5,"s":"GRATE"},{"d":820,"v":1.7,"s":"GRATE"},{"d":840,"v":1.9,"s":"GRATE"},{"d":860,"v":1.6,"s":"GRATE"},{"d":880,"v":1.8,"s":"GRATE"},{"d":900,"v":2.2,"s":"GRATE"},{"d":920,"v":1.7,"s":"GRATE"},{"d":940,"v":1.5,"s":"GRATE"},{"d":960,"v":2.0,"s":"GRATE"},{"d":980,"v":2.4,"s":"GRATE"},{"d":1000,"v":2.0,"s":"GRATE"},{"d":1020,"v":1.7,"s":"GRATE"},{"d":1040,"v":1.9,"s":"GRATE"},{"d":1060,"v":1.6,"s":"GRATE"},{"d":1080,"v":2.1,"s":"GRATE"},{"d":1100,"v":1.8,"s":"GRATE"},{"d":1120,"v":2.2,"s":"GRATE"},{"d":1140,"v":2.5,"s":"GRATE"},{"d":1160,"v":2.1,"s":"GRATE"},{"d":1180,"v":2.7,"s":"GRATE"},{"d":1200,"v":2.4,"s":"GRATE"},{"d":1220,"v":2.9,"s":"GRATE"},{"d":1240,"v":2.6,"s":"GRATE"},{"d":1260,"v":3.1,"s":"GRATE"},{"d":1280,"v":2.8,"s":"GRATE"},{"d":1300,"v":3.5,"s":"GRATE"},{"d":1320,"v":4.0,"s":"GRATE"},{"d":1340,"v":10.5,"s":"GRATE"},{"d":1360,"v":10.5,"s":"GRATE"},{"d":1380,"v":10.5,"s":"GRATE"},{"d":1400,"v":4.2,"s":"GRATE"},{"d":1420,"v":3.0,"s":"GRATE"},{"d":1440,"v":1.6,"s":"GRATE"},{"d":1460,"v":1.7,"s":"GRATE"},{"d":1480,"v":2.8,"s":"GRATE"},{"d":1500,"v":3.6,"s":"GRATE"},{"d":1520,"v":4.4,"s":"GRATE"},{"d":1540,"v":3.2,"s":"GRATE"},{"d":1560,"v":4.0,"s":"GRATE"},{"d":1580,"v":5.0,"s":"GRATE"},{"d":1600,"v":4.4,"s":"GRATE"},{"d":1620,"v":5.5,"s":"GRATE"},{"d":1640,"v":3.8,"s":"GRATE"},{"d":1660,"v":2.4,"s":"GRATE"},{"d":1680,"v":2.6,"s":"GRATE"},{"d":1700,"v":4.6,"s":"GRATE"},{"d":1720,"v":12.5,"s":"GRATE"},{"d":1740,"v":2.5,"s":"GRATE"},{"d":1760,"v":5.5,"s":"GRATE"},{"d":1780,"v":7.0,"s":"GRATE"},{"d":1800,"v":6.0,"s":"GRATE"},{"d":1820,"v":8.0,"s":"GRATE"},{"d":1840,"v":12.5,"s":"GRATE"},{"d":1860,"v":6.5,"s":"GRATE"},{"d":1880,"v":7.5,"s":"GRATE"},{"d":1900,"v":5.5,"s":"GRATE"},{"d":1920,"v":9.0,"s":"GRATE"},{"d":1940,"v":7.0,"s":"GRATE"},{"d":1960,"v":4.5,"s":"GRATE"},{"d":1980,"v":3.8,"s":"GRATE"},{"d":2000,"v":6.0,"s":"GRATE"},{"d":2020,"v":8.5,"s":"GRATE"},{"d":2040,"v":6.5,"s":"GRATE"},{"d":2060,"v":5.0,"s":"GRATE"},{"d":2080,"v":3.6,"s":"GRATE"},{"d":2100,"v":2.9,"s":"GRATE"},{"d":2120,"v":3.9,"s":"GRATE"},{"d":2140,"v":5.5,"s":"GRATE"},{"d":2160,"v":4.0,"s":"GRATE"},{"d":2180,"v":2.8,"s":"GRATE"},{"d":2200,"v":3.4,"s":"GRATE"},{"d":2220,"v":2.6,"s":"GRATE"},{"d":2240,"v":3.0,"s":"GRATE"},{"d":2260,"v":4.4,"s":"GRATE"},{"d":2280,"v":5.8,"s":"GRATE"},{"d":2300,"v":4.6,"s":"GRATE"},{"d":2320,"v":3.3,"s":"GRATE"},{"d":2340,"v":3.0,"s":"GRATE"},{"d":2360,"v":2.8,"s":"GRATE"},{"d":2380,"v":8.2,"s":"GRATE"},{"d":2400,"v":12.0,"s":"GRATE"},{"d":2420,"v":11.5,"s":"GRATE"},{"d":2440,"v":6.5,"s":"GRATE"},
{"d":10,"v":0.28,"s":"PIV"},{"d":30,"v":0.25,"s":"PIV"},{"d":50,"v":0.22,"s":"PIV"},{"d":70,"v":0.20,"s":"PIV"},{"d":95,"v":0.19,"s":"PIV"},{"d":115,"v":0.19,"s":"PIV"},{"d":135,"v":0.21,"s":"PIV"},{"d":150,"v":0.24,"s":"PIV"},{"d":175,"v":0.30,"s":"PIV"},{"d":195,"v":0.40,"s":"PIV"},{"d":215,"v":0.55,"s":"PIV"},{"d":240,"v":0.70,"s":"PIV"},{"d":260,"v":0.80,"s":"PIV"},{"d":280,"v":1.15,"s":"PIV"},{"d":300,"v":0.95,"s":"PIV"},{"d":320,"v":0.85,"s":"PIV"},{"d":340,"v":0.88,"s":"PIV"},{"d":365,"v":0.80,"s":"PIV"},{"d":390,"v":0.90,"s":"PIV"},{"d":415,"v":0.85,"s":"PIV"},{"d":440,"v":0.80,"s":"PIV"},{"d":465,"v":0.90,"s":"PIV"},{"d":490,"v":1.0,"s":"PIV"},{"d":510,"v":0.85,"s":"PIV"},{"d":535,"v":1.1,"s":"PIV"},{"d":560,"v":1.4,"s":"PIV"},{"d":583,"v":3.7,"s":"PIV"},{"d":600,"v":1.3,"s":"PIV"},{"d":620,"v":1.2,"s":"PIV"},{"d":640,"v":1.1,"s":"PIV"},{"d":660,"v":0.95,"s":"PIV"},{"d":680,"v":1.2,"s":"PIV"},{"d":700,"v":1.4,"s":"PIV"},{"d":720,"v":1.1,"s":"PIV"},{"d":745,"v":1.3,"s":"PIV"},{"d":770,"v":1.4,"s":"PIV"},{"d":790,"v":1.2,"s":"PIV"},{"d":810,"v":1.7,"s":"PIV"},{"d":830,"v":1.3,"s":"PIV"},{"d":856,"v":5.3,"s":"PIV"},{"d":870,"v":1.5,"s":"PIV"},{"d":890,"v":0.95,"s":"PIV"},{"d":910,"v":2.2,"s":"PIV"},{"d":930,"v":1.1,"s":"PIV"},{"d":950,"v":2.8,"s":"PIV"},{"d":975,"v":3.2,"s":"PIV"},{"d":990,"v":1.0,"s":"PIV"},{"d":1010,"v":1.6,"s":"PIV"},{"d":1031,"v":7.4,"s":"PIV"},{"d":1050,"v":1.8,"s":"PIV"},{"d":1070,"v":2.2,"s":"PIV"},{"d":1090,"v":1.5,"s":"PIV"},{"d":1110,"v":2.0,"s":"PIV"},{"d":1130,"v":2.3,"s":"PIV"},{"d":1150,"v":2.0,"s":"PIV"},{"d":1170,"v":2.8,"s":"PIV"},{"d":1190,"v":4.2,"s":"PIV"},{"d":1210,"v":3.0,"s":"PIV"},{"d":1230,"v":2.0,"s":"PIV"},{"d":1250,"v":3.5,"s":"PIV"},{"d":1270,"v":2.4,"s":"PIV"},{"d":1290,"v":3.8,"s":"PIV"},{"d":1310,"v":4.5,"s":"PIV"},{"d":1330,"v":2.2,"s":"PIV"},{"d":1350,"v":6.0,"s":"PIV"},{"d":1370,"v":3.0,"s":"PIV"},{"d":1390,"v":2.5,"s":"PIV"},{"d":1410,"v":7.5,"s":"PIV"},{"d":1430,"v":4.5,"s":"PIV"},{"d":1450,"v":1.5,"s":"PIV"},{"d":1470,"v":2.0,"s":"PIV"},{"d":1490,"v":3.2,"s":"PIV"},{"d":1510,"v":1.8,"s":"PIV"},{"d":1530,"v":4.0,"s":"PIV"},{"d":1550,"v":2.5,"s":"PIV"},{"d":1570,"v":6.0,"s":"PIV"},{"d":1600,"v":52,"s":"PIV"},{"d":1615,"v":3.5,"s":"PIV"},{"d":1630,"v":8.0,"s":"PIV"},{"d":1650,"v":4.5,"s":"PIV"},{"d":1670,"v":12.5,"s":"PIV"},{"d":1690,"v":2.2,"s":"PIV"},{"d":1710,"v":3.2,"s":"PIV"},{"d":1730,"v":2.0,"s":"PIV"},{"d":1750,"v":6.5,"s":"PIV"},{"d":1770,"v":4.0,"s":"PIV"},{"d":1790,"v":9.0,"s":"PIV"},{"d":1810,"v":2.5,"s":"PIV"},{"d":1830,"v":5.5,"s":"PIV"},{"d":1850,"v":10.0,"s":"PIV"},{"d":1870,"v":7.0,"s":"PIV"},{"d":1890,"v":3.0,"s":"PIV"},{"d":1910,"v":4.5,"s":"PIV"},{"d":1930,"v":6.0,"s":"PIV"},{"d":1950,"v":5.0,"s":"PIV"},{"d":1970,"v":2.0,"s":"PIV"},{"d":1990,"v":3.5,"s":"PIV"},{"d":2010,"v":5.0,"s":"PIV"},{"d":2030,"v":8.5,"s":"PIV"},{"d":2052,"v":23,"s":"PIV"},{"d":2070,"v":2.7,"s":"PIV"},{"d":2090,"v":12.0,"s":"PIV"},{"d":2110,"v":4.0,"s":"PIV"},{"d":2130,"v":2.0,"s":"PIV"},{"d":2150,"v":3.0,"s":"PIV"},{"d":2168,"v":20,"s":"PIV"},{"d":2190,"v":7.0,"s":"PIV"},{"d":2210,"v":2.5,"s":"PIV"},{"d":2230,"v":4.5,"s":"PIV"},{"d":2250,"v":9.0,"s":"PIV"},{"d":2270,"v":3.0,"s":"PIV"},{"d":2290,"v":2.0,"s":"PIV"},{"d":2310,"v":5.5,"s":"PIV"},{"d":2330,"v":13,"s":"PIV"},{"d":2350,"v":6.5,"s":"PIV"},{"d":2370,"v":3.5,"s":"PIV"},{"d":2390,"v":14.5,"s":"PIV"},{"d":2410,"v":1.7,"s":"PIV"},{"d":2430,"v":1.5,"s":"PIV"},{"d":2445,"v":1.3,"s":"PIV"}
],
"gAR":[
{"d":10,"v":0.29,"s":"GRATE"},{"d":25,"v":0.26,"s":"GRATE"},{"d":40,"v":0.23,"s":"GRATE"},{"d":60,"v":0.22,"s":"GRATE"},{"d":85,"v":0.21,"s":"GRATE"},{"d":105,"v":0.20,"s":"GRATE"},{"d":125,"v":0.20,"s":"GRATE"},{"d":145,"v":0.22,"s":"GRATE"},{"d":160,"v":0.25,"s":"GRATE"},{"d":175,"v":0.30,"s":"GRATE"},{"d":190,"v":0.40,"s":"GRATE"},{"d":205,"v":0.50,"s":"GRATE"},{"d":220,"v":0.70,"s":"GRATE"},{"d":235,"v":0.88,"s":"GRATE"},{"d":250,"v":0.92,"s":"GRATE"},{"d":270,"v":0.94,"s":"GRATE"},{"d":290,"v":0.90,"s":"GRATE"},{"d":310,"v":0.95,"s":"GRATE"},{"d":330,"v":0.97,"s":"GRATE"},{"d":350,"v":0.92,"s":"GRATE"},{"d":370,"v":0.98,"s":"GRATE"},{"d":390,"v":1.0,"s":"GRATE"},{"d":410,"v":0.95,"s":"GRATE"},{"d":430,"v":1.02,"s":"GRATE"},{"d":450,"v":1.0,"s":"GRATE"},{"d":470,"v":1.05,"s":"GRATE"},{"d":490,"v":0.95,"s":"GRATE"},{"d":510,"v":1.1,"s":"GRATE"},{"d":530,"v":1.15,"s":"GRATE"},{"d":550,"v":1.1,"s":"GRATE"},{"d":570,"v":1.2,"s":"GRATE"},{"d":590,"v":1.15,"s":"GRATE"},{"d":610,"v":1.25,"s":"GRATE"},{"d":630,"v":1.3,"s":"GRATE"},{"d":650,"v":1.2,"s":"GRATE"},{"d":670,"v":1.35,"s":"GRATE"},{"d":690,"v":1.3,"s":"GRATE"},{"d":710,"v":1.4,"s":"GRATE"},{"d":730,"v":1.45,"s":"GRATE"},{"d":750,"v":1.35,"s":"GRATE"},{"d":770,"v":1.55,"s":"GRATE"},{"d":790,"v":1.5,"s":"GRATE"},{"d":810,"v":1.6,"s":"GRATE"},{"d":830,"v":2.2,"s":"GRATE"},{"d":850,"v":1.7,"s":"GRATE"},{"d":870,"v":1.65,"s":"GRATE"},{"d":890,"v":1.8,"s":"GRATE"},{"d":910,"v":1.9,"s":"GRATE"},{"d":930,"v":2.0,"s":"GRATE"},{"d":950,"v":1.9,"s":"GRATE"},{"d":970,"v":2.2,"s":"GRATE"},{"d":990,"v":1.8,"s":"GRATE"},{"d":1010,"v":2.1,"s":"GRATE"},{"d":1030,"v":2.0,"s":"GRATE"},{"d":1050,"v":2.4,"s":"GRATE"},{"d":1070,"v":2.2,"s":"GRATE"},{"d":1090,"v":2.5,"s":"GRATE"},{"d":1110,"v":2.3,"s":"GRATE"},{"d":1130,"v":2.7,"s":"GRATE"},{"d":1150,"v":2.5,"s":"GRATE"},{"d":1170,"v":2.9,"s":"GRATE"},{"d":1190,"v":2.6,"s":"GRATE"},{"d":1210,"v":2.8,"s":"GRATE"},{"d":1230,"v":3.0,"s":"GRATE"},{"d":1250,"v":2.7,"s":"GRATE"},{"d":1270,"v":3.2,"s":"GRATE"},{"d":1290,"v":3.5,"s":"GRATE"},{"d":1310,"v":4.2,"s":"GRATE"},{"d":1330,"v":5.8,"s":"GRATE"},{"d":1350,"v":6.5,"s":"GRATE"},{"d":1365,"v":10.4,"s":"GRATE"},{"d":1385,"v":15.0,"s":"GRATE"},{"d":1400,"v":6.0,"s":"GRATE"},{"d":1420,"v":4.2,"s":"GRATE"},{"d":1440,"v":3.4,"s":"GRATE"},{"d":1460,"v":3.0,"s":"GRATE"},{"d":1480,"v":2.8,"s":"GRATE"},{"d":1500,"v":3.2,"s":"GRATE"},{"d":1520,"v":3.8,"s":"GRATE"},{"d":1540,"v":4.5,"s":"GRATE"},{"d":1560,"v":4.8,"s":"GRATE"},{"d":1580,"v":5.0,"s":"GRATE"},{"d":1600,"v":5.5,"s":"GRATE"},{"d":1620,"v":5.6,"s":"GRATE"},{"d":1640,"v":5.2,"s":"GRATE"},{"d":1660,"v":5.5,"s":"GRATE"},{"d":1680,"v":4.6,"s":"GRATE"},{"d":1700,"v":3.8,"s":"GRATE"},{"d":1720,"v":3.4,"s":"GRATE"},{"d":1740,"v":3.0,"s":"GRATE"},{"d":1760,"v":3.2,"s":"GRATE"},{"d":1780,"v":3.1,"s":"GRATE"},{"d":1800,"v":3.4,"s":"GRATE"},{"d":1820,"v":4.2,"s":"GRATE"},{"d":1840,"v":5.5,"s":"GRATE"},{"d":1860,"v":6.5,"s":"GRATE"},{"d":1880,"v":7.8,"s":"GRATE"},{"d":1900,"v":8.2,"s":"GRATE"},{"d":1920,"v":8.0,"s":"GRATE"},{"d":1940,"v":7.4,"s":"GRATE"},{"d":1960,"v":7.6,"s":"GRATE"},{"d":1980,"v":7.0,"s":"GRATE"},{"d":2000,"v":6.8,"s":"GRATE"},{"d":2020,"v":6.5,"s":"GRATE"},{"d":2040,"v":6.0,"s":"GRATE"},{"d":2060,"v":5.2,"s":"GRATE"},{"d":2080,"v":4.6,"s":"GRATE"},{"d":2100,"v":4.0,"s":"GRATE"},{"d":2120,"v":3.8,"s":"GRATE"},{"d":2140,"v":3.4,"s":"GRATE"},{"d":2160,"v":3.6,"s":"GRATE"},{"d":2180,"v":3.5,"s":"GRATE"},{"d":2200,"v":3.2,"s":"GRATE"},{"d":2220,"v":3.8,"s":"GRATE"},{"d":2240,"v":3.0,"s":"GRATE"},{"d":2260,"v":3.5,"s":"GRATE"},{"d":2280,"v":4.0,"s":"GRATE"},{"d":2300,"v":4.4,"s":"GRATE"},{"d":2320,"v":4.0,"s":"GRATE"},{"d":2340,"v":4.6,"s":"GRATE"},{"d":2360,"v":4.2,"s":"GRATE"},{"d":2380,"v":5.0,"s":"GRATE"},{"d":2400,"v":5.4,"s":"GRATE"},{"d":2420,"v":5.6,"s":"GRATE"},{"d":2440,"v":6.5,"s":"GRATE"},{"d":2460,"v":8.2,"s":"GRATE"},{"d":2480,"v":8.0,"s":"GRATE"},{"d":2495,"v":7.6,"s":"GRATE"},
{"d":5,"v":0.25,"s":"PIV"},{"d":20,"v":0.23,"s":"PIV"},{"d":40,"v":0.22,"s":"PIV"},{"d":60,"v":0.21,"s":"PIV"},{"d":80,"v":0.20,"s":"PIV"},{"d":100,"v":0.19,"s":"PIV"},{"d":120,"v":0.18,"s":"PIV"},{"d":140,"v":0.20,"s":"PIV"},{"d":160,"v":0.24,"s":"PIV"},{"d":180,"v":0.32,"s":"PIV"},{"d":200,"v":0.45,"s":"PIV"},{"d":215,"v":0.60,"s":"PIV"},{"d":230,"v":0.75,"s":"PIV"},{"d":245,"v":1.4,"s":"PIV"},{"d":255,"v":1.8,"s":"PIV"},{"d":270,"v":1.2,"s":"PIV"},{"d":285,"v":0.85,"s":"PIV"},{"d":300,"v":0.65,"s":"PIV"},{"d":320,"v":0.95,"s":"PIV"},{"d":340,"v":0.80,"s":"PIV"},{"d":360,"v":0.90,"s":"PIV"},{"d":380,"v":1.0,"s":"PIV"},{"d":400,"v":0.85,"s":"PIV"},{"d":420,"v":0.92,"s":"PIV"},{"d":440,"v":1.0,"s":"PIV"},{"d":460,"v":1.1,"s":"PIV"},{"d":480,"v":0.95,"s":"PIV"},{"d":500,"v":1.2,"s":"PIV"},{"d":520,"v":1.05,"s":"PIV"},{"d":540,"v":1.3,"s":"PIV"},{"d":560,"v":1.15,"s":"PIV"},{"d":580,"v":1.35,"s":"PIV"},{"d":600,"v":1.2,"s":"PIV"},{"d":620,"v":1.1,"s":"PIV"},{"d":640,"v":1.3,"s":"PIV"},{"d":660,"v":1.25,"s":"PIV"},{"d":680,"v":1.1,"s":"PIV"},{"d":700,"v":1.4,"s":"PIV"},{"d":720,"v":1.2,"s":"PIV"},{"d":740,"v":1.5,"s":"PIV"},{"d":760,"v":1.3,"s":"PIV"},{"d":780,"v":1.35,"s":"PIV"},{"d":800,"v":1.45,"s":"PIV"},{"d":820,"v":1.2,"s":"PIV"},{"d":840,"v":1.6,"s":"PIV"},{"d":860,"v":1.4,"s":"PIV"},{"d":880,"v":1.5,"s":"PIV"},{"d":900,"v":1.3,"s":"PIV"},{"d":920,"v":1.7,"s":"PIV"},{"d":940,"v":1.6,"s":"PIV"},{"d":960,"v":1.4,"s":"PIV"},{"d":980,"v":1.8,"s":"PIV"},{"d":1000,"v":1.5,"s":"PIV"},{"d":1020,"v":2.0,"s":"PIV"},{"d":1040,"v":1.7,"s":"PIV"},{"d":1060,"v":2.6,"s":"PIV"},{"d":1080,"v":3.4,"s":"PIV"},{"d":1100,"v":2.0,"s":"PIV"},{"d":1120,"v":1.8,"s":"PIV"},{"d":1140,"v":2.4,"s":"PIV"},{"d":1160,"v":2.2,"s":"PIV"},{"d":1180,"v":2.6,"s":"PIV"},{"d":1200,"v":2.4,"s":"PIV"},{"d":1220,"v":2.8,"s":"PIV"},{"d":1240,"v":2.6,"s":"PIV"},{"d":1260,"v":3.0,"s":"PIV"},{"d":1280,"v":2.4,"s":"PIV"},{"d":1300,"v":3.2,"s":"PIV"},{"d":1320,"v":3.6,"s":"PIV"},{"d":1340,"v":3.0,"s":"PIV"},{"d":1360,"v":2.8,"s":"PIV"},{"d":1380,"v":3.8,"s":"PIV"},{"d":1400,"v":3.2,"s":"PIV"},{"d":1420,"v":2.6,"s":"PIV"},{"d":1440,"v":2.8,"s":"PIV"},{"d":1460,"v":2.5,"s":"PIV"},{"d":1480,"v":3.0,"s":"PIV"},{"d":1500,"v":3.5,"s":"PIV"},{"d":1520,"v":2.8,"s":"PIV"},{"d":1540,"v":3.3,"s":"PIV"},{"d":1560,"v":3.6,"s":"PIV"},{"d":1580,"v":4.2,"s":"PIV"},{"d":1600,"v":3.8,"s":"PIV"},{"d":1620,"v":4.0,"s":"PIV"},{"d":1640,"v":12.0,"s":"PIV"},{"d":1655,"v":10.0,"s":"PIV"},{"d":1670,"v":7.0,"s":"PIV"},{"d":1690,"v":5.5,"s":"PIV"},{"d":1710,"v":4.5,"s":"PIV"},{"d":1730,"v":3.6,"s":"PIV"},{"d":1750,"v":3.0,"s":"PIV"},{"d":1770,"v":2.6,"s":"PIV"},{"d":1790,"v":2.8,"s":"PIV"},{"d":1810,"v":3.2,"s":"PIV"},{"d":1830,"v":4.0,"s":"PIV"},{"d":1850,"v":5.0,"s":"PIV"},{"d":1870,"v":6.0,"s":"PIV"},{"d":1890,"v":7.0,"s":"PIV"},{"d":1910,"v":7.5,"s":"PIV"},{"d":1930,"v":8.5,"s":"PIV"},{"d":1950,"v":12.0,"s":"PIV"},{"d":1970,"v":8.0,"s":"PIV"},{"d":1990,"v":6.5,"s":"PIV"},{"d":2010,"v":5.5,"s":"PIV"},{"d":2030,"v":5.0,"s":"PIV"},{"d":2050,"v":4.5,"s":"PIV"},{"d":2070,"v":4.0,"s":"PIV"},{"d":2090,"v":3.6,"s":"PIV"},{"d":2110,"v":3.2,"s":"PIV"},{"d":2130,"v":2.8,"s":"PIV"},{"d":2150,"v":3.0,"s":"PIV"},{"d":2170,"v":2.5,"s":"PIV"},{"d":2190,"v":3.0,"s":"PIV"},{"d":2210,"v":3.6,"s":"PIV"},{"d":2230,"v":4.0,"s":"PIV"},{"d":2250,"v":5.0,"s":"PIV"},{"d":2262,"v":20.5,"s":"PIV"},{"d":2280,"v":6.0,"s":"PIV"},{"d":2300,"v":5.5,"s":"PIV"},{"d":2320,"v":4.5,"s":"PIV"},{"d":2340,"v":4.0,"s":"PIV"},{"d":2360,"v":5.0,"s":"PIV"},{"d":2380,"v":4.5,"s":"PIV"},{"d":2400,"v":3.2,"s":"PIV"},{"d":2420,"v":2.6,"s":"PIV"},{"d":2440,"v":2.2,"s":"PIV"},{"d":2460,"v":2.6,"s":"PIV"},{"d":2475,"v":1.9,"s":"PIV"},{"d":2490,"v":2.4,"s":"PIV"}
],
"gBL":[
{"d":3,"v":0.88,"s":"GRATE"},{"d":18,"v":0.65,"s":"GRATE"},{"d":33,"v":0.52,"s":"GRATE"},{"d":51,"v":0.44,"s":"GRATE"},{"d":65,"v":0.40,"s":"GRATE"},{"d":80,"v":0.37,"s":"GRATE"},{"d":95,"v":0.35,"s":"GRATE"},{"d":110,"v":0.33,"s":"GRATE"},{"d":125,"v":0.33,"s":"GRATE"},{"d":140,"v":0.35,"s":"GRATE"},{"d":155,"v":0.38,"s":"GRATE"},{"d":170,"v":0.42,"s":"GRATE"},{"d":185,"v":0.48,"s":"GRATE"},{"d":200,"v":0.58,"s":"GRATE"},{"d":215,"v":0.70,"s":"GRATE"},{"d":230,"v":0.80,"s":"GRATE"},{"d":245,"v":0.84,"s":"GRATE"},{"d":260,"v":0.86,"s":"GRATE"},{"d":280,"v":0.88,"s":"GRATE"},{"d":300,"v":0.87,"s":"GRATE"},{"d":320,"v":0.90,"s":"GRATE"},{"d":340,"v":0.92,"s":"GRATE"},{"d":360,"v":0.90,"s":"GRATE"},{"d":380,"v":0.95,"s":"GRATE"},{"d":400,"v":0.94,"s":"GRATE"},{"d":420,"v":0.98,"s":"GRATE"},{"d":440,"v":0.95,"s":"GRATE"},{"d":460,"v":1.0,"s":"GRATE"},{"d":480,"v":1.05,"s":"GRATE"},{"d":500,"v":1.1,"s":"GRATE"},{"d":520,"v":1.15,"s":"GRATE"},{"d":540,"v":1.2,"s":"GRATE"},{"d":560,"v":1.22,"s":"GRATE"},{"d":580,"v":1.25,"s":"GRATE"},{"d":600,"v":1.3,"s":"GRATE"},{"d":620,"v":1.35,"s":"GRATE"},{"d":640,"v":1.4,"s":"GRATE"},{"d":660,"v":1.45,"s":"GRATE"},{"d":680,"v":1.5,"s":"GRATE"},{"d":700,"v":1.55,"s":"GRATE"},{"d":720,"v":1.6,"s":"GRATE"},{"d":740,"v":1.7,"s":"GRATE"},{"d":760,"v":1.8,"s":"GRATE"},{"d":780,"v":1.9,"s":"GRATE"},{"d":800,"v":2.1,"s":"GRATE"},{"d":820,"v":2.4,"s":"GRATE"},{"d":840,"v":2.3,"s":"GRATE"},{"d":860,"v":2.2,"s":"GRATE"},{"d":880,"v":2.5,"s":"GRATE"},{"d":900,"v":2.6,"s":"GRATE"},{"d":920,"v":3.0,"s":"GRATE"},{"d":940,"v":3.4,"s":"GRATE"},{"d":960,"v":4.2,"s":"GRATE"},{"d":975,"v":3.0,"s":"GRATE"},{"d":990,"v":2.1,"s":"GRATE"},{"d":1005,"v":1.7,"s":"GRATE"},{"d":1020,"v":2.2,"s":"GRATE"},{"d":1040,"v":2.8,"s":"GRATE"},{"d":1055,"v":3.1,"s":"GRATE"},{"d":1070,"v":3.8,"s":"GRATE"},{"d":1085,"v":4.2,"s":"GRATE"},{"d":1100,"v":3.5,"s":"GRATE"},{"d":1120,"v":3.0,"s":"GRATE"},{"d":1140,"v":2.8,"s":"GRATE"},{"d":1160,"v":2.6,"s":"GRATE"},{"d":1180,"v":3.0,"s":"GRATE"},{"d":1200,"v":3.8,"s":"GRATE"},{"d":1220,"v":4.6,"s":"GRATE"},{"d":1240,"v":3.8,"s":"GRATE"},{"d":1260,"v":3.2,"s":"GRATE"},{"d":1280,"v":2.6,"s":"GRATE"},{"d":1300,"v":3.2,"s":"GRATE"},{"d":1320,"v":3.6,"s":"GRATE"},{"d":1340,"v":3.2,"s":"GRATE"},{"d":1360,"v":3.0,"s":"GRATE"},{"d":1380,"v":3.4,"s":"GRATE"},{"d":1400,"v":3.8,"s":"GRATE"},{"d":1420,"v":3.6,"s":"GRATE"},{"d":1435,"v":5.0,"s":"GRATE"},{"d":1450,"v":7.5,"s":"GRATE"},{"d":1465,"v":5.0,"s":"GRATE"},{"d":1480,"v":4.2,"s":"GRATE"},{"d":1495,"v":4.0,"s":"GRATE"},
{"d":3,"v":1.5,"s":"PIV"},{"d":15,"v":0.75,"s":"PIV"},{"d":30,"v":0.62,"s":"PIV"},{"d":45,"v":0.50,"s":"PIV"},{"d":60,"v":0.42,"s":"PIV"},{"d":75,"v":0.37,"s":"PIV"},{"d":90,"v":0.33,"s":"PIV"},{"d":105,"v":0.32,"s":"PIV"},{"d":120,"v":0.32,"s":"PIV"},{"d":135,"v":0.33,"s":"PIV"},{"d":150,"v":0.36,"s":"PIV"},{"d":165,"v":0.40,"s":"PIV"},{"d":180,"v":0.46,"s":"PIV"},{"d":195,"v":0.55,"s":"PIV"},{"d":210,"v":0.65,"s":"PIV"},{"d":225,"v":0.75,"s":"PIV"},{"d":240,"v":0.82,"s":"PIV"},{"d":255,"v":0.85,"s":"PIV"},{"d":270,"v":0.85,"s":"PIV"},{"d":290,"v":0.84,"s":"PIV"},{"d":310,"v":0.86,"s":"PIV"},{"d":330,"v":0.85,"s":"PIV"},{"d":350,"v":0.88,"s":"PIV"},{"d":370,"v":0.90,"s":"PIV"},{"d":390,"v":0.88,"s":"PIV"},{"d":410,"v":0.92,"s":"PIV"},{"d":430,"v":0.80,"s":"PIV"},{"d":450,"v":0.85,"s":"PIV"},{"d":470,"v":0.95,"s":"PIV"},{"d":485,"v":1.0,"s":"PIV"},{"d":501,"v":2.8,"s":"PIV"},{"d":522,"v":4.4,"s":"PIV"},{"d":535,"v":1.3,"s":"PIV"},{"d":550,"v":1.0,"s":"PIV"},{"d":565,"v":0.85,"s":"PIV"},{"d":580,"v":1.15,"s":"PIV"},{"d":600,"v":1.2,"s":"PIV"},{"d":620,"v":1.3,"s":"PIV"},{"d":640,"v":1.4,"s":"PIV"},{"d":660,"v":1.3,"s":"PIV"},{"d":680,"v":1.6,"s":"PIV"},{"d":700,"v":1.5,"s":"PIV"},{"d":720,"v":1.7,"s":"PIV"},{"d":740,"v":2.5,"s":"PIV"},{"d":760,"v":3.8,"s":"PIV"},{"d":784,"v":1.2,"s":"PIV"},{"d":799,"v":1.0,"s":"PIV"},{"d":814,"v":0.2,"s":"PIV"},{"d":838,"v":0.35,"s":"PIV"},{"d":859,"v":21,"s":"PIV"},{"d":880,"v":0.51,"s":"PIV"},{"d":895,"v":1.8,"s":"PIV"},{"d":910,"v":0.24,"s":"PIV"},{"d":925,"v":3.2,"s":"PIV"},{"d":945,"v":2.6,"s":"PIV"},{"d":965,"v":1.8,"s":"PIV"},{"d":985,"v":4.0,"s":"PIV"},{"d":1005,"v":5.0,"s":"PIV"},{"d":1020,"v":2.2,"s":"PIV"},{"d":1038,"v":4.6,"s":"PIV"},{"d":1055,"v":1.4,"s":"PIV"},{"d":1068,"v":3.8,"s":"PIV"},{"d":1083,"v":1.9,"s":"PIV"},{"d":1097,"v":1.2,"s":"PIV"},{"d":1112,"v":4.8,"s":"PIV"},{"d":1127,"v":1.05,"s":"PIV"},{"d":1145,"v":2.6,"s":"PIV"},{"d":1160,"v":1.6,"s":"PIV"},{"d":1172,"v":43,"s":"PIV"},{"d":1187,"v":1.5,"s":"PIV"},{"d":1200,"v":2.2,"s":"PIV"},{"d":1217,"v":10,"s":"PIV"},{"d":1235,"v":3.0,"s":"PIV"},{"d":1256,"v":16,"s":"PIV"},{"d":1270,"v":2.4,"s":"PIV"},{"d":1285,"v":5.8,"s":"PIV"},{"d":1300,"v":3.2,"s":"PIV"},{"d":1315,"v":2.5,"s":"PIV"},{"d":1335,"v":2.2,"s":"PIV"},{"d":1351,"v":5.8,"s":"PIV"},{"d":1370,"v":3.0,"s":"PIV"},{"d":1390,"v":4.8,"s":"PIV"},{"d":1410,"v":3.5,"s":"PIV"},{"d":1425,"v":2.4,"s":"PIV"},{"d":1434,"v":43,"s":"PIV"},{"d":1447,"v":4.2,"s":"PIV"},{"d":1460,"v":6.0,"s":"PIV"},{"d":1475,"v":3.0,"s":"PIV"},{"d":1486,"v":2.2,"s":"PIV"},{"d":1495,"v":0.62,"s":"PIV"}
],
"gBR":[
{"d":6,"v":0.60,"s":"GRATE"},{"d":20,"v":0.55,"s":"GRATE"},{"d":35,"v":0.50,"s":"GRATE"},{"d":50,"v":0.46,"s":"GRATE"},{"d":65,"v":0.42,"s":"GRATE"},{"d":80,"v":0.39,"s":"GRATE"},{"d":95,"v":0.37,"s":"GRATE"},{"d":110,"v":0.35,"s":"GRATE"},{"d":125,"v":0.34,"s":"GRATE"},{"d":140,"v":0.35,"s":"GRATE"},{"d":155,"v":0.38,"s":"GRATE"},{"d":170,"v":0.44,"s":"GRATE"},{"d":185,"v":0.52,"s":"GRATE"},{"d":200,"v":0.62,"s":"GRATE"},{"d":215,"v":0.74,"s":"GRATE"},{"d":230,"v":0.84,"s":"GRATE"},{"d":245,"v":0.90,"s":"GRATE"},{"d":265,"v":0.92,"s":"GRATE"},{"d":285,"v":0.93,"s":"GRATE"},{"d":305,"v":0.95,"s":"GRATE"},{"d":325,"v":0.96,"s":"GRATE"},{"d":345,"v":0.98,"s":"GRATE"},{"d":365,"v":1.0,"s":"GRATE"},{"d":385,"v":1.02,"s":"GRATE"},{"d":405,"v":1.05,"s":"GRATE"},{"d":425,"v":1.1,"s":"GRATE"},{"d":445,"v":1.15,"s":"GRATE"},{"d":465,"v":1.2,"s":"GRATE"},{"d":485,"v":1.25,"s":"GRATE"},{"d":505,"v":1.3,"s":"GRATE"},{"d":525,"v":1.35,"s":"GRATE"},{"d":545,"v":1.4,"s":"GRATE"},{"d":565,"v":1.45,"s":"GRATE"},{"d":585,"v":1.5,"s":"GRATE"},{"d":605,"v":1.55,"s":"GRATE"},{"d":625,"v":1.6,"s":"GRATE"},{"d":645,"v":1.65,"s":"GRATE"},{"d":665,"v":1.7,"s":"GRATE"},{"d":685,"v":1.75,"s":"GRATE"},{"d":705,"v":1.8,"s":"GRATE"},{"d":725,"v":1.9,"s":"GRATE"},{"d":745,"v":2.0,"s":"GRATE"},{"d":765,"v":2.1,"s":"GRATE"},{"d":785,"v":2.3,"s":"GRATE"},{"d":805,"v":2.4,"s":"GRATE"},{"d":825,"v":2.5,"s":"GRATE"},{"d":845,"v":2.7,"s":"GRATE"},{"d":865,"v":2.9,"s":"GRATE"},{"d":885,"v":3.1,"s":"GRATE"},{"d":905,"v":3.4,"s":"GRATE"},{"d":925,"v":3.6,"s":"GRATE"},{"d":945,"v":3.4,"s":"GRATE"},{"d":960,"v":2.6,"s":"GRATE"},{"d":975,"v":2.3,"s":"GRATE"},{"d":990,"v":2.1,"s":"GRATE"},{"d":1005,"v":2.0,"s":"GRATE"},{"d":1020,"v":2.2,"s":"GRATE"},{"d":1040,"v":2.6,"s":"GRATE"},{"d":1060,"v":3.0,"s":"GRATE"},{"d":1080,"v":3.4,"s":"GRATE"},{"d":1095,"v":3.6,"s":"GRATE"},{"d":1110,"v":3.2,"s":"GRATE"},{"d":1130,"v":2.8,"s":"GRATE"},{"d":1150,"v":2.6,"s":"GRATE"},{"d":1170,"v":2.5,"s":"GRATE"},{"d":1190,"v":2.6,"s":"GRATE"},{"d":1210,"v":2.9,"s":"GRATE"},{"d":1230,"v":3.3,"s":"GRATE"},{"d":1250,"v":3.6,"s":"GRATE"},{"d":1270,"v":3.9,"s":"GRATE"},{"d":1290,"v":4.2,"s":"GRATE"},{"d":1310,"v":3.8,"s":"GRATE"},{"d":1330,"v":3.4,"s":"GRATE"},{"d":1350,"v":3.3,"s":"GRATE"},{"d":1370,"v":3.0,"s":"GRATE"},{"d":1385,"v":2.8,"s":"GRATE"},{"d":1400,"v":3.0,"s":"GRATE"},{"d":1415,"v":3.3,"s":"GRATE"},{"d":1430,"v":3.4,"s":"GRATE"},{"d":1445,"v":3.2,"s":"GRATE"},{"d":1460,"v":3.3,"s":"GRATE"},{"d":1475,"v":3.4,"s":"GRATE"},{"d":1490,"v":3.2,"s":"GRATE"},
{"d":0,"v":0.62,"s":"PIV"},{"d":15,"v":0.52,"s":"PIV"},{"d":30,"v":0.47,"s":"PIV"},{"d":45,"v":0.44,"s":"PIV"},{"d":60,"v":0.40,"s":"PIV"},{"d":75,"v":0.37,"s":"PIV"},{"d":90,"v":0.35,"s":"PIV"},{"d":105,"v":0.34,"s":"PIV"},{"d":120,"v":0.33,"s":"PIV"},{"d":135,"v":0.33,"s":"PIV"},{"d":150,"v":0.35,"s":"PIV"},{"d":165,"v":0.40,"s":"PIV"},{"d":180,"v":0.46,"s":"PIV"},{"d":195,"v":0.55,"s":"PIV"},{"d":210,"v":0.68,"s":"PIV"},{"d":225,"v":0.78,"s":"PIV"},{"d":240,"v":0.85,"s":"PIV"},{"d":255,"v":0.88,"s":"PIV"},{"d":275,"v":0.90,"s":"PIV"},{"d":295,"v":0.92,"s":"PIV"},{"d":315,"v":0.95,"s":"PIV"},{"d":335,"v":0.94,"s":"PIV"},{"d":355,"v":0.98,"s":"PIV"},{"d":375,"v":1.0,"s":"PIV"},{"d":395,"v":1.0,"s":"PIV"},{"d":415,"v":1.05,"s":"PIV"},{"d":435,"v":1.08,"s":"PIV"},{"d":455,"v":1.12,"s":"PIV"},{"d":475,"v":1.15,"s":"PIV"},{"d":495,"v":1.2,"s":"PIV"},{"d":515,"v":1.3,"s":"PIV"},{"d":535,"v":1.35,"s":"PIV"},{"d":555,"v":1.4,"s":"PIV"},{"d":575,"v":1.5,"s":"PIV"},{"d":595,"v":1.5,"s":"PIV"},{"d":615,"v":1.6,"s":"PIV"},{"d":635,"v":1.6,"s":"PIV"},{"d":655,"v":1.7,"s":"PIV"},{"d":675,"v":1.75,"s":"PIV"},{"d":690,"v":1.7,"s":"PIV"},{"d":705,"v":10.5,"s":"PIV"},{"d":720,"v":1.8,"s":"PIV"},{"d":740,"v":1.9,"s":"PIV"},{"d":760,"v":2.0,"s":"PIV"},{"d":774,"v":0.54,"s":"PIV"},{"d":795,"v":0.68,"s":"PIV"},{"d":810,"v":0.75,"s":"PIV"},{"d":825,"v":0.8,"s":"PIV"},{"d":840,"v":0.95,"s":"PIV"},{"d":855,"v":1.1,"s":"PIV"},{"d":870,"v":2.8,"s":"PIV"},{"d":890,"v":3.0,"s":"PIV"},{"d":910,"v":3.2,"s":"PIV"},{"d":930,"v":3.5,"s":"PIV"},{"d":950,"v":3.0,"s":"PIV"},{"d":970,"v":2.8,"s":"PIV"},{"d":990,"v":2.5,"s":"PIV"},{"d":1010,"v":2.2,"s":"PIV"},{"d":1030,"v":2.4,"s":"PIV"},{"d":1050,"v":2.8,"s":"PIV"},{"d":1070,"v":3.0,"s":"PIV"},{"d":1090,"v":3.2,"s":"PIV"},{"d":1110,"v":1.7,"s":"PIV"},{"d":1130,"v":2.8,"s":"PIV"},{"d":1150,"v":2.4,"s":"PIV"},{"d":1170,"v":2.6,"s":"PIV"},{"d":1190,"v":3.0,"s":"PIV"},{"d":1210,"v":4.5,"s":"PIV"},{"d":1230,"v":4.8,"s":"PIV"},{"d":1250,"v":3.6,"s":"PIV"},{"d":1275,"v":4.8,"s":"PIV"},{"d":1290,"v":12,"s":"PIV"},{"d":1305,"v":4.5,"s":"PIV"},{"d":1320,"v":4.2,"s":"PIV"},{"d":1340,"v":3.4,"s":"PIV"},{"d":1360,"v":5.0,"s":"PIV"},{"d":1380,"v":3.8,"s":"PIV"},{"d":1400,"v":3.0,"s":"PIV"},{"d":1420,"v":5.2,"s":"PIV"},{"d":1440,"v":3.8,"s":"PIV"},{"d":1460,"v":3.5,"s":"PIV"},{"d":1476,"v":10,"s":"PIV"},{"d":1494,"v":52,"s":"PIV"}
]
},
"spacing":2,
"resolve":{"scale":{"fill":"independent","stroke":"independent"},"legend":{"fill":"independent","stroke":"independent"}},
"vconcat":[
{"spacing":0,"bounds":"flush",
 "resolve":{"scale":{"fill":"independent","stroke":"independent"},"legend":{"fill":"independent","stroke":"independent"}},
 "hconcat":[
{"width":92,"height":118,"data":{"values":[]},"mark":"point","encoding":{},"view":{"stroke":null}},
{"width":166,"height":118,
 "title":{"text":"Neonatal Bovine","fontSize":18,"anchor":"middle","dx":-7,"offset":16},
 "data":{"name":"dA"},
 "mark":{"type":"point","size":12,"strokeWidth":0.8,"opacity":1},
 "encoding":{
  "x":{"field":"d","type":"quantitative","scale":{"domain":[0,2500],"nice":false},"axis":{"values":[0,500,1000,1500,2000,2500],"format":"d","title":"DEPTH (μm)","titleFontSize":12.5,"titlePadding":9}},
  "y":{"field":"v","type":"quantitative","scale":{"domain":[10,35],"nice":false,"zero":false},"axis":{"values":[10,15,20,25,30,35],"title":"DISPLACEMENT (μm)","titleFontSize":12,"labelPadding":6,"titlePadding":4}},
  "fill":{"field":"s","type":"nominal","scale":{"domain":["GRATE","PIV"],"range":["#000000","transparent"]},"legend":{"title":null}},
  "stroke":{"field":"s","type":"nominal","scale":{"domain":["GRATE","PIV"],"range":["#000000","#8c8c8c"]},"legend":{"title":null}}
 }},
{"width":238,"height":118,"data":{"values":[]},"mark":"point","encoding":{},"view":{"stroke":null}},
{"width":165,"height":118,
 "title":{"text":"Adult Human","fontSize":18,"anchor":"middle","dx":-1.5,"offset":16},
 "data":{"name":"dB"},
 "mark":{"type":"point","size":12,"strokeWidth":0.8,"opacity":1},
 "encoding":{
  "x":{"field":"d","type":"quantitative","scale":{"domain":[0,1500],"nice":false},"axis":{"values":[0,500,1000,1500],"format":"d","title":"DEPTH (μm)","titleFontSize":12.5,"titlePadding":9}},
  "y":{"field":"v","type":"quantitative","scale":{"domain":[10,35],"nice":false,"zero":false},"axis":{"values":[10,15,20,25,30,35],"title":"DISPLACEMENT (μm)","titleFontSize":12,"labelPadding":6,"titlePadding":4}},
  "fill":{"field":"s","type":"nominal","scale":{"domain":["GRATE","PIV"],"range":["#000000","transparent"]},"legend":{"title":null}},
  "stroke":{"field":"s","type":"nominal","scale":{"domain":["GRATE","PIV"],"range":["#000000","#8c8c8c"]},"legend":{"title":null}}
 }}
]},
{"columns":5,"spacing":0,"bounds":"flush",
 "resolve":{"scale":{"fill":"independent","stroke":"independent"},"legend":{"fill":"independent","stroke":"independent"}},
 "concat":[
{"width":168,"height":116,
 "layer":[
  {"data":{"name":"sAL"},"mark":{"type":"point","size":12,"strokeWidth":0.8,"opacity":1},
   "encoding":{
    "x":{"field":"d","type":"quantitative","scale":{"domain":[0,2450],"nice":false},"axis":null},
    "y":{"field":"v","type":"quantitative","scale":{"domain":[0,0.05],"nice":false,"zero":false},"axis":{"values":[0,0.01,0.02,0.03,0.04,0.05],"format":".2f","title":"SHEAR STRAIN","titlePadding":4.5}},
    "fill":{"field":"s","type":"nominal","scale":{"domain":["GRATE","PIV"],"range":["#000000","transparent"]},"legend":null},
    "stroke":{"field":"s","type":"nominal","scale":{"domain":["GRATE","PIV"],"range":["#000000","#8c8c8c"]},"legend":null}}},
  {"data":{"values":[{}]},"mark":{"type":"text","font":"Open Sans","fontSize":15,"align":"center","baseline":"alphabetic","color":"#111"},
   "encoding":{"x":{"datum":773,"type":"quantitative","axis":null},"y":{"datum":0.0569,"type":"quantitative","axis":{"values":[0,0.01,0.02,0.03,0.04,0.05],"format":".2f","title":"SHEAR STRAIN","titlePadding":4.5}},"text":{"value":"5PLSQ"}}},
  {"data":{"values":[{}]},"mark":{"type":"rule","strokeWidth":2,"color":"#111"},
   "encoding":{"x":{"datum":1487,"type":"quantitative","axis":null},"y":{"datum":0.0642,"type":"quantitative","axis":{"values":[0,0.01,0.02,0.03,0.04,0.05],"format":".2f","title":"SHEAR STRAIN","titlePadding":4.5}},"x2":{"datum":1237},"y2":{"datum":0.0565}}},
  {"data":{"values":[{}]},"mark":{"type":"point","shape":"triangle-up","angle":225,"size":90,"filled":true,"color":"#111","opacity":1},
   "encoding":{"x":{"datum":1237,"type":"quantitative","axis":null},"y":{"datum":0.0565,"type":"quantitative","axis":{"values":[0,0.01,0.02,0.03,0.04,0.05],"format":".2f","title":"SHEAR STRAIN","titlePadding":4.5}}}}
 ]},
{"width":167,"height":116,
 "layer":[
  {"data":{"name":"sAR"},"mark":{"type":"point","size":12,"strokeWidth":0.8,"opacity":1},
   "encoding":{
    "x":{"field":"d","type":"quantitative","scale":{"domain":[0,2500],"nice":false},"axis":null},
    "y":{"field":"v","type":"quantitative","scale":{"domain":[0,0.05],"nice":false,"zero":false},"axis":null},
    "fill":{"field":"s","type":"nominal","scale":{"domain":["GRATE","PIV"],"range":["#000000","transparent"]},"legend":null},
    "stroke":{"field":"s","type":"nominal","scale":{"domain":["GRATE","PIV"],"range":["#000000","#8c8c8c"]},"legend":null}}},
  {"data":{"values":[{}]},"mark":{"type":"text","font":"Open Sans","fontSize":15,"align":"center","baseline":"alphabetic","color":"#111"},
   "encoding":{"x":{"datum":1774,"type":"quantitative","axis":null},"y":{"datum":0.0569,"type":"quantitative","axis":null},"text":{"value":"WAND"}}},
  {"data":{"values":[{}]},"mark":{"type":"rule","strokeWidth":2,"color":"#111"},
   "encoding":{"x":{"datum":1063,"type":"quantitative","axis":null},"y":{"datum":0.0647,"type":"quantitative","axis":null},"x2":{"datum":1320},"y2":{"datum":0.0569}}},
  {"data":{"values":[{}]},"mark":{"type":"point","shape":"triangle-up","angle":135,"size":90,"filled":true,"color":"#111","opacity":1},
   "encoding":{"x":{"datum":1320,"type":"quantitative","axis":null},"y":{"datum":0.0569,"type":"quantitative","axis":null}}}
 ]},
{"width":67,"height":116,"data":{"values":[]},"mark":"point","encoding":{},"view":{"stroke":null}},
{"width":168,"height":116,
 "layer":[
  {"data":{"name":"sBL"},"mark":{"type":"point","size":12,"strokeWidth":0.8,"opacity":1},
   "encoding":{
    "x":{"field":"d","type":"quantitative","scale":{"domain":[0,1500],"nice":false},"axis":null},
    "y":{"field":"v","type":"quantitative","scale":{"domain":[0,0.05],"nice":false,"zero":false},"axis":{"values":[0,0.01,0.02,0.03,0.04,0.05],"format":".2f","title":"SHEAR STRAIN","titlePadding":4.5}},
    "fill":{"field":"s","type":"nominal","scale":{"domain":["GRATE","PIV"],"range":["#000000","transparent"]},"legend":null},
    "stroke":{"field":"s","type":"nominal","scale":{"domain":["GRATE","PIV"],"range":["#000000","#8c8c8c"]},"legend":null}}},
  {"data":{"values":[{}]},"mark":{"type":"text","font":"Open Sans","fontSize":15,"align":"center","baseline":"alphabetic","color":"#111"},
   "encoding":{"x":{"datum":585,"type":"quantitative","axis":null},"y":{"datum":0.0569,"type":"quantitative","axis":{"values":[0,0.01,0.02,0.03,0.04,0.05],"format":".2f","title":"SHEAR STRAIN","titlePadding":4.5}},"text":{"value":"5PLSQ"}}},
  {"data":{"values":[{}]},"mark":{"type":"rule","strokeWidth":2,"color":"#111"},
   "encoding":{"x":{"datum":1000,"type":"quantitative","axis":null},"y":{"datum":0.0642,"type":"quantitative","axis":{"values":[0,0.01,0.02,0.03,0.04,0.05],"format":".2f","title":"SHEAR STRAIN","titlePadding":4.5}},"x2":{"datum":838},"y2":{"datum":0.0565}}},
  {"data":{"values":[{}]},"mark":{"type":"point","shape":"triangle-up","angle":225,"size":90,"filled":true,"color":"#111","opacity":1},
   "encoding":{"x":{"datum":838,"type":"quantitative","axis":null},"y":{"datum":0.0565,"type":"quantitative","axis":{"values":[0,0.01,0.02,0.03,0.04,0.05],"format":".2f","title":"SHEAR STRAIN","titlePadding":4.5}}}}
 ]},
{"width":166,"height":116,
 "layer":[
  {"data":{"name":"sBR"},"mark":{"type":"point","size":12,"strokeWidth":0.8,"opacity":1},
   "encoding":{
    "x":{"field":"d","type":"quantitative","scale":{"domain":[0,1500],"nice":false},"axis":null},
    "y":{"field":"v","type":"quantitative","scale":{"domain":[0,0.05],"nice":false,"zero":false},"axis":null},
    "fill":{"field":"s","type":"nominal","scale":{"domain":["GRATE","PIV"],"range":["#000000","transparent"]},"legend":null},
    "stroke":{"field":"s","type":"nominal","scale":{"domain":["GRATE","PIV"],"range":["#000000","#8c8c8c"]},"legend":null}}},
  {"data":{"values":[{}]},"mark":{"type":"text","font":"Open Sans","fontSize":15,"align":"center","baseline":"alphabetic","color":"#111"},
   "encoding":{"x":{"datum":1120,"type":"quantitative","axis":null},"y":{"datum":0.0569,"type":"quantitative","axis":null},"text":{"value":"WAND"}}},
  {"data":{"values":[{}]},"mark":{"type":"rule","strokeWidth":2,"color":"#111"},
   "encoding":{"x":{"datum":714,"type":"quantitative","axis":null},"y":{"datum":0.0647,"type":"quantitative","axis":null},"x2":{"datum":878},"y2":{"datum":0.0569}}},
  {"data":{"values":[{}]},"mark":{"type":"point","shape":"triangle-up","angle":135,"size":90,"filled":true,"color":"#111","opacity":1},
   "encoding":{"x":{"datum":878,"type":"quantitative","axis":null},"y":{"datum":0.0569,"type":"quantitative","axis":null}}}
 ]},
{"width":168,"height":118,
 "title":{"text":"A","orient":"bottom","anchor":"end","align":"center","fontSize":28,"fontWeight":"bold","color":"#000","offset":10},
 "data":{"name":"gAL"},
 "mark":{"type":"point","size":12,"strokeWidth":0.8,"opacity":1},
 "encoding":{
  "x":{"field":"d","type":"quantitative","scale":{"domain":[0,2450],"nice":false},"axis":{"values":[0,500,1000,1500,2000],"format":"d","title":"DEPTH (μm)","titlePadding":7}},
  "y":{"field":"v","type":"quantitative","scale":{"type":"log","domain":[0.1,100],"nice":false},"axis":{"values":[0.1,1,10],"format":"~g","title":"|G*| (MPa)","titlePadding":4.5}},
  "fill":{"field":"s","type":"nominal","scale":{"domain":["GRATE","PIV"],"range":["#000000","transparent"]},"legend":null},
  "stroke":{"field":"s","type":"nominal","scale":{"domain":["GRATE","PIV"],"range":["#000000","#8c8c8c"]},"legend":null}
 }},
{"width":167,"height":118,
 "data":{"name":"gAR"},
 "mark":{"type":"point","size":12,"strokeWidth":0.8,"opacity":1},
 "encoding":{
  "x":{"field":"d","type":"quantitative","scale":{"domain":[0,2500],"nice":false},"axis":{"values":[0,500,1000,1500,2000,2500],"format":"d","title":"DEPTH (μm)","titlePadding":7}},
  "y":{"field":"v","type":"quantitative","scale":{"type":"log","domain":[0.1,100],"nice":false},"axis":null},
  "fill":{"field":"s","type":"nominal","scale":{"domain":["GRATE","PIV"],"range":["#000000","transparent"]},"legend":null},
  "stroke":{"field":"s","type":"nominal","scale":{"domain":["GRATE","PIV"],"range":["#000000","#8c8c8c"]},"legend":null}
 }},
{"width":67,"height":118,"data":{"values":[]},"mark":"point","encoding":{},"view":{"stroke":null}},
{"width":168,"height":118,
 "title":{"text":"B","orient":"bottom","anchor":"end","align":"center","fontSize":28,"fontWeight":"bold","color":"#000","offset":10},
 "data":{"name":"gBL"},
 "mark":{"type":"point","size":12,"strokeWidth":0.8,"opacity":1},
 "encoding":{
  "x":{"field":"d","type":"quantitative","scale":{"domain":[0,1500],"nice":false},"axis":{"values":[0,500,1000],"format":"d","title":"DEPTH (μm)","titlePadding":7}},
  "y":{"field":"v","type":"quantitative","scale":{"type":"log","domain":[0.1,100],"nice":false},"axis":{"values":[0.1,1,10],"format":"~g","title":"|G*| (MPa)","titlePadding":4.5}},
  "fill":{"field":"s","type":"nominal","scale":{"domain":["GRATE","PIV"],"range":["#000000","transparent"]},"legend":null},
  "stroke":{"field":"s","type":"nominal","scale":{"domain":["GRATE","PIV"],"range":["#000000","#8c8c8c"]},"legend":null}
 }},
{"width":166,"height":118,
 "data":{"name":"gBR"},
 "mark":{"type":"point","size":12,"strokeWidth":0.8,"opacity":1},
 "encoding":{
  "x":{"field":"d","type":"quantitative","scale":{"domain":[0,1500],"nice":false},"axis":{"values":[0,500,1000,1500],"format":"d","title":"DEPTH (μm)","titlePadding":7}},
  "y":{"field":"v","type":"quantitative","scale":{"type":"log","domain":[0.1,100],"nice":false},"axis":null},
  "fill":{"field":"s","type":"nominal","scale":{"domain":["GRATE","PIV"],"range":["#000000","transparent"]},"legend":null},
  "stroke":{"field":"s","type":"nominal","scale":{"domain":["GRATE","PIV"],"range":["#000000","#8c8c8c"]},"legend":null}
 }}
]}
]
}
